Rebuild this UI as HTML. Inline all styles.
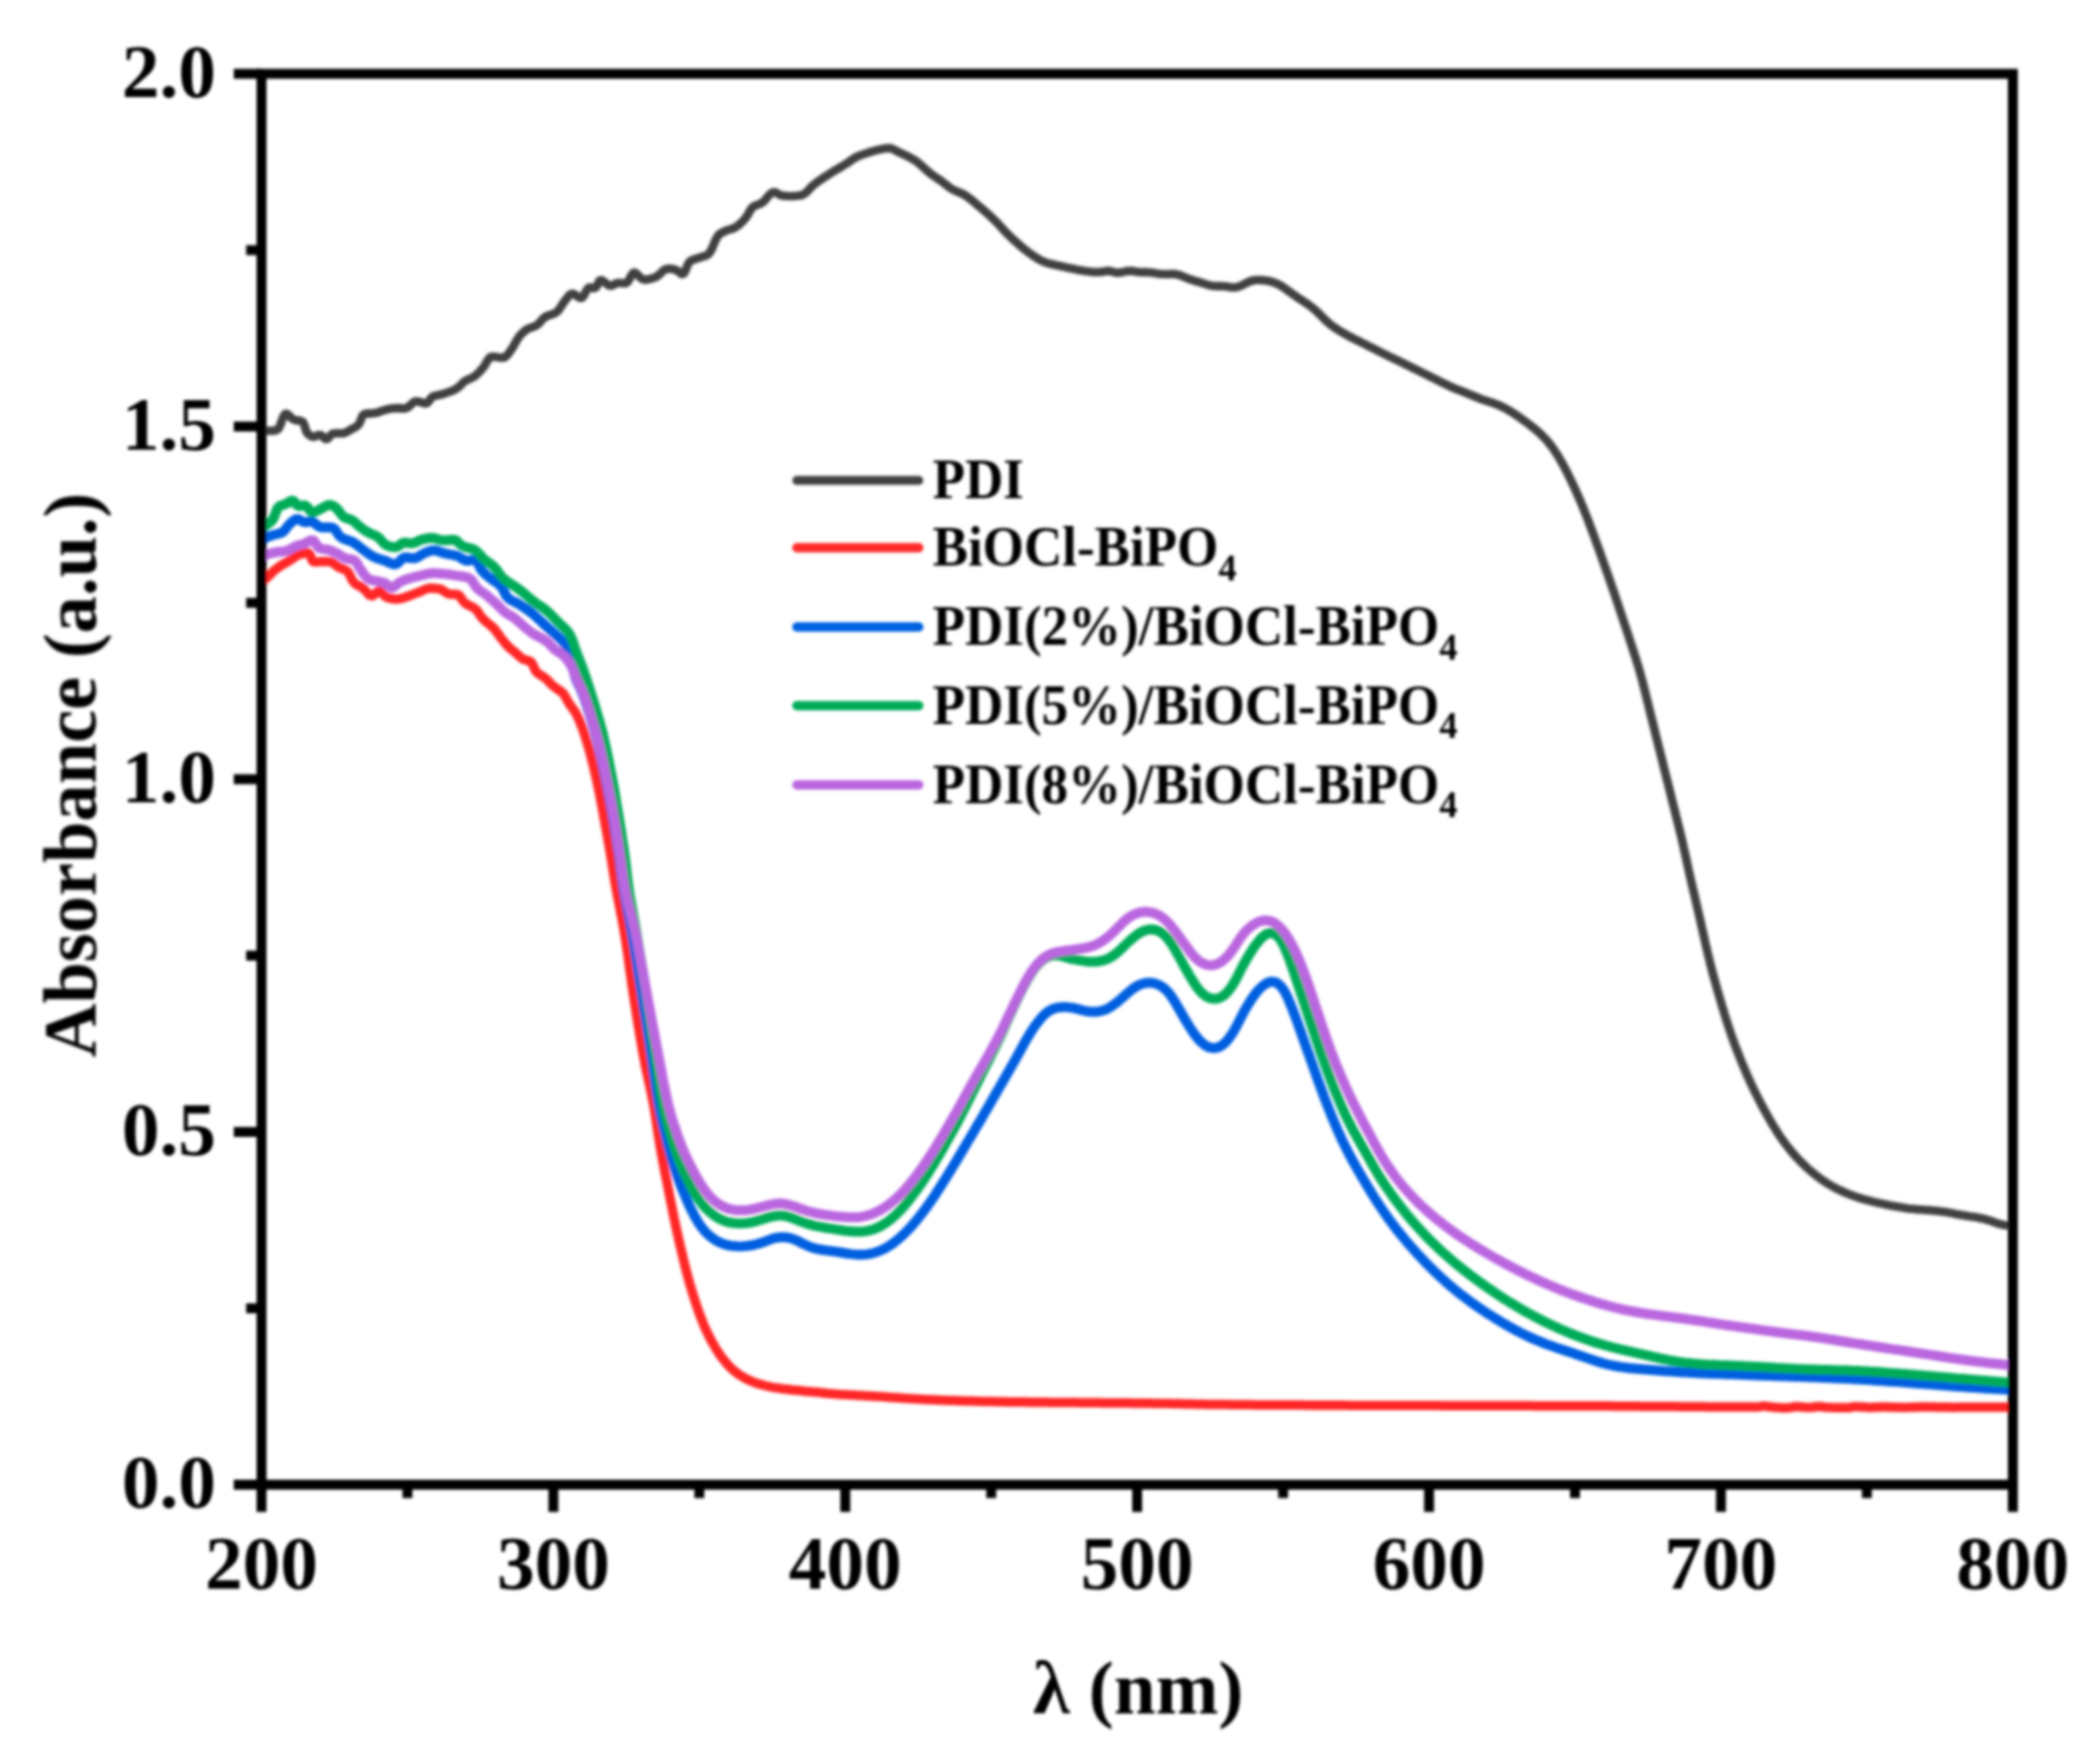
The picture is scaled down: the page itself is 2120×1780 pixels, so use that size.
<!DOCTYPE html>
<html><head><meta charset="utf-8"><title>UV-vis absorbance</title>
<style>html,body{margin:0;padding:0;background:#fff}svg{display:block}text{font-family:"Liberation Serif",serif;font-weight:bold;fill:#000}</style></head><body>
<svg width="2120" height="1780" viewBox="0 0 2120 1780">
<rect width="2120" height="1780" fill="#fff"/>
<defs><clipPath id="c"><rect x="264" y="74.5" width="1768" height="1424.5"/></clipPath><filter id="b" filterUnits="userSpaceOnUse" x="0" y="0" width="2120" height="1780"><feGaussianBlur stdDeviation="1.4"/></filter></defs>
<g filter="url(#b)">
<g clip-path="url(#c)" fill="none" stroke-linejoin="round" stroke-linecap="butt">
<path d="M264.0 429.5L265.8 432.5L267.9 434.5L270.5 435.0L273.6 434.9L276.8 434.7L279.3 434.3L281.2 432.7L282.7 429.8L284.0 426.2L285.3 422.5L286.7 419.5L288.3 417.8L290.2 418.1L292.4 420.2L294.9 422.6L297.6 424.0L300.8 424.6L303.8 425.1L305.8 426.1L307.0 428.5L308.0 431.7L309.0 435.0L310.4 437.6L312.7 439.6L315.4 441.0L318.2 440.7L321.0 439.3L323.7 439.2L326.2 441.2L328.5 443.2L330.8 443.0L332.9 440.6L335.2 438.2L337.7 437.5L340.7 437.5L343.8 437.5L346.8 437.4L349.5 436.5L352.2 434.9L354.9 433.3L357.7 431.9L360.3 430.4L362.2 428.4L363.7 425.5L364.9 422.2L366.2 419.4L368.0 418.0L370.5 417.6L373.6 417.4L376.9 417.2L379.9 416.8L382.8 415.9L385.6 414.8L388.5 413.9L391.4 413.2L394.3 412.6L397.3 412.2L400.3 412.0L403.3 412.1L406.4 412.4L409.2 412.4L411.8 411.3L414.3 409.1L416.7 406.8L419.2 405.3L421.9 405.3L425.0 406.1L428.0 407.1L430.6 407.3L432.6 405.5L434.5 402.7L436.6 400.6L439.2 399.6L442.2 399.0L445.3 398.3L448.2 397.5L451.1 396.5L454.0 395.5L456.8 394.4L459.5 393.1L462.0 391.6L464.2 389.7L466.3 387.5L468.5 385.4L471.0 383.9L473.8 382.6L476.6 381.4L479.1 379.9L481.4 378.0L483.6 375.9L485.6 373.7L487.6 371.4L489.5 368.7L491.2 365.7L492.9 362.8L494.8 360.7L497.0 360.1L499.8 360.3L503.0 360.8L506.1 361.1L508.7 361.0L511.1 359.5L513.2 357.1L515.2 354.4L517.0 351.8L518.6 349.3L520.0 346.6L521.5 343.9L523.0 341.4L524.8 339.0L526.9 336.8L529.1 334.6L531.5 332.8L534.0 331.5L536.9 330.5L539.8 329.5L542.3 328.1L544.5 326.1L546.5 323.7L548.5 321.4L550.9 319.7L553.6 318.5L556.6 317.6L559.5 316.5L561.9 315.1L563.9 313.2L565.6 310.7L567.3 308.0L569.0 305.4L570.9 303.0L572.9 300.3L575.0 297.8L577.3 296.5L579.7 297.0L582.5 299.0L585.1 300.7L587.3 300.8L589.2 298.7L590.9 295.5L592.6 292.3L594.6 290.4L597.2 290.5L600.0 291.0L602.1 289.6L603.7 286.3L605.3 283.4L607.3 282.8L609.7 284.3L612.3 286.5L615.0 288.3L617.7 288.4L620.4 287.0L623.2 285.7L626.2 285.7L629.3 286.0L631.9 286.0L634.0 284.3L635.7 281.2L637.4 277.9L639.2 275.6L641.2 275.4L643.5 277.2L645.9 279.7L648.4 281.8L651.0 282.4L653.9 282.1L657.0 281.4L659.9 280.5L662.6 279.4L665.1 277.6L667.5 275.3L669.8 273.1L672.3 271.7L675.0 271.3L678.1 271.5L681.0 272.0L683.8 273.3L686.4 275.4L688.6 276.8L690.4 276.1L691.8 273.6L693.1 270.2L694.4 266.8L696.1 264.3L698.3 262.8L701.1 261.7L704.1 260.8L707.1 259.8L710.1 258.9L712.9 258.0L715.1 256.6L716.8 254.5L718.3 251.9L719.6 249.0L720.9 245.8L722.2 242.8L723.6 239.9L725.3 237.5L727.3 235.7L729.9 234.3L732.7 233.0L735.6 232.0L738.5 231.1L741.3 230.1L743.8 228.6L746.2 226.8L748.4 224.7L750.6 222.5L752.5 220.2L754.3 217.8L755.9 215.0L757.4 212.3L759.1 209.9L761.2 208.2L763.9 207.0L766.9 206.0L769.5 204.6L771.9 202.5L774.0 199.9L776.2 197.3L778.3 195.2L780.6 194.0L783.1 194.3L785.7 195.9L788.5 197.3L791.4 197.7L794.4 197.9L797.4 198.0L800.5 198.0L803.6 197.8L806.6 197.5L809.3 197.0L811.8 195.9L814.1 194.1L816.3 191.8L818.5 189.4L820.8 187.2L823.1 185.3L825.5 183.5L828.0 181.8L830.5 180.1L833.0 178.4L835.5 176.8L838.0 175.2L840.5 173.6L843.1 172.0L845.7 170.5L848.3 169.0L850.9 167.4L853.4 165.9L856.0 164.3L858.4 162.6L860.9 160.8L863.4 159.1L866.0 157.8L868.8 156.7L871.6 155.7L874.5 154.7L877.3 153.8L880.2 152.9L883.1 152.1L886.0 151.4L889.0 150.8L892.0 150.1L894.9 149.7L897.8 149.5L900.7 150.2L903.4 151.5L906.1 153.0L908.9 154.3L911.6 155.5L914.3 156.8L917.1 158.2L919.7 159.6L922.3 161.1L924.8 162.7L927.1 164.4L929.4 166.4L931.6 168.4L933.8 170.5L936.1 172.5L938.4 174.5L940.7 176.3L943.2 178.0L945.7 179.7L948.2 181.4L950.6 183.1L953.0 184.9L955.4 186.8L957.8 188.7L960.2 190.4L962.8 191.9L965.5 193.1L968.3 194.2L971.1 195.4L973.7 196.8L976.2 198.4L978.6 200.2L981.0 202.0L983.3 204.0L985.6 205.9L987.9 207.9L990.2 209.8L992.5 211.8L994.7 213.7L997.0 215.7L999.2 217.7L1001.4 219.8L1003.6 221.9L1005.7 224.0L1007.8 226.1L1009.8 228.3L1011.9 230.6L1013.9 232.8L1015.9 235.0L1018.0 237.1L1020.2 239.2L1022.3 241.3L1024.5 243.3L1026.8 245.3L1029.0 247.3L1031.3 249.3L1033.6 251.2L1036.0 253.0L1038.4 254.9L1040.8 256.6L1043.3 258.4L1045.8 260.0L1048.3 261.5L1051.0 263.0L1053.7 264.3L1056.5 265.3L1059.3 266.1L1062.2 266.8L1065.2 267.5L1068.2 268.1L1071.1 268.8L1074.0 269.4L1076.9 270.1L1079.9 270.7L1082.8 271.3L1085.7 271.9L1088.7 272.5L1091.6 273.0L1094.6 273.5L1097.6 273.9L1100.6 274.3L1103.6 274.6L1106.5 274.8L1109.5 274.7L1112.4 274.4L1115.2 273.9L1117.9 273.5L1120.5 273.6L1123.0 274.3L1125.5 275.0L1128.1 275.4L1130.8 275.2L1133.7 274.6L1136.5 274.0L1139.4 273.5L1142.3 273.6L1145.2 274.0L1148.0 274.4L1150.9 274.8L1153.8 274.9L1156.8 274.9L1159.8 275.0L1162.7 275.3L1165.7 275.7L1168.6 276.2L1171.6 276.6L1174.6 276.8L1177.6 276.8L1180.5 276.7L1183.5 276.6L1186.4 276.8L1189.2 277.4L1192.0 278.2L1194.8 279.4L1197.6 280.6L1200.4 281.7L1203.2 282.6L1206.1 283.5L1209.0 284.3L1211.9 285.2L1214.8 286.1L1217.6 287.0L1220.5 287.9L1223.4 288.5L1226.3 288.8L1229.2 288.9L1232.2 288.9L1235.2 289.0L1238.1 289.3L1241.0 289.8L1243.9 290.2L1246.6 290.3L1249.4 289.8L1252.1 288.8L1254.8 287.5L1257.5 286.1L1260.2 284.8L1263.0 283.7L1265.9 283.0L1268.8 282.7L1271.7 282.7L1274.7 282.9L1277.7 283.3L1280.6 283.7L1283.5 284.4L1286.3 285.3L1289.1 286.4L1291.7 287.8L1294.3 289.3L1296.8 291.0L1299.3 292.7L1301.7 294.5L1304.1 296.2L1306.6 298.0L1309.0 299.7L1311.5 301.4L1314.1 303.1L1316.6 304.7L1319.1 306.4L1321.5 308.1L1323.9 309.9L1326.2 311.7L1328.5 313.7L1330.7 315.8L1332.8 317.9L1334.9 320.0L1337.0 322.2L1339.2 324.2L1341.4 326.2L1343.7 328.1L1346.1 329.9L1348.6 331.6L1351.1 333.2L1353.7 334.8L1356.2 336.3L1358.9 337.8L1361.5 339.2L1364.1 340.6L1366.8 342.0L1369.5 343.3L1372.2 344.6L1374.9 346.0L1377.6 347.3L1380.2 348.7L1382.9 350.1L1385.6 351.4L1388.3 352.8L1390.9 354.1L1393.6 355.5L1396.3 356.8L1399.0 358.2L1401.7 359.5L1404.4 360.8L1407.1 362.1L1409.8 363.4L1412.5 364.7L1415.2 366.0L1417.9 367.4L1420.6 368.7L1423.3 370.0L1425.9 371.3L1428.6 372.7L1431.3 374.0L1434.0 375.3L1436.7 376.7L1439.4 378.0L1442.1 379.4L1444.7 380.7L1447.4 382.0L1450.1 383.4L1452.8 384.7L1455.5 386.1L1458.2 387.4L1460.9 388.7L1463.6 390.0L1466.3 391.2L1469.1 392.4L1471.9 393.5L1474.7 394.6L1477.5 395.7L1480.3 396.8L1483.0 397.9L1485.8 399.0L1488.6 400.2L1491.3 401.3L1494.1 402.4L1496.8 403.5L1499.6 404.4L1502.4 405.3L1505.2 406.3L1507.9 407.2L1510.7 408.2L1513.4 409.3L1516.1 410.5L1518.7 411.8L1521.3 413.2L1523.9 414.7L1526.4 416.3L1528.9 417.9L1531.4 419.6L1533.9 421.3L1536.3 423.1L1538.8 424.8L1541.2 426.6L1543.6 428.4L1546.0 430.3L1548.3 432.1L1550.6 434.0L1552.9 436.0L1555.1 438.0L1557.2 440.1L1559.3 442.2L1561.3 444.4L1563.2 446.6L1565.1 449.0L1566.9 451.3L1568.6 453.8L1570.2 456.3L1571.9 458.8L1573.4 461.3L1574.9 463.9L1576.4 466.5L1577.9 469.1L1579.3 471.8L1580.7 474.4L1582.0 477.1L1583.4 479.8L1584.7 482.5L1586.0 485.2L1587.3 487.9L1588.6 490.6L1589.8 493.3L1591.1 496.1L1592.3 498.8L1593.5 501.5L1594.7 504.3L1595.9 507.0L1597.0 509.8L1598.2 512.6L1599.3 515.4L1600.4 518.2L1601.5 521.0L1602.6 523.7L1603.7 526.5L1604.7 529.3L1605.8 532.2L1606.9 535.0L1607.9 537.8L1609.0 540.6L1610.0 543.4L1611.0 546.2L1612.0 549.0L1613.1 551.9L1614.1 554.7L1615.1 557.5L1616.1 560.3L1617.1 563.2L1618.1 566.0L1619.1 568.8L1620.1 571.6L1621.1 574.5L1622.1 577.3L1623.1 580.1L1624.1 583.0L1625.1 585.8L1626.1 588.6L1627.0 591.5L1628.0 594.3L1629.0 597.1L1630.0 600.0L1630.9 602.8L1631.9 605.7L1632.8 608.5L1633.8 611.3L1634.7 614.2L1635.7 617.0L1636.6 619.9L1637.6 622.7L1638.5 625.6L1639.5 628.4L1640.4 631.3L1641.4 634.1L1642.3 637.0L1643.3 639.8L1644.2 642.7L1645.2 645.5L1646.1 648.4L1647.0 651.2L1648.0 654.1L1648.9 656.9L1649.8 659.8L1650.7 662.6L1651.6 665.5L1652.5 668.4L1653.4 671.2L1654.2 674.1L1655.1 677.0L1655.9 679.9L1656.7 682.8L1657.5 685.6L1658.2 688.5L1659.0 691.4L1659.7 694.4L1660.5 697.3L1661.2 700.2L1661.9 703.1L1662.6 706.0L1663.3 708.9L1664.1 711.8L1664.8 714.7L1665.5 717.7L1666.2 720.6L1666.9 723.5L1667.7 726.4L1668.4 729.3L1669.1 732.2L1669.9 735.1L1670.6 738.0L1671.3 740.9L1672.0 743.9L1672.8 746.8L1673.5 749.7L1674.2 752.6L1674.9 755.5L1675.7 758.4L1676.4 761.3L1677.1 764.2L1677.9 767.1L1678.6 770.0L1679.3 773.0L1680.0 775.9L1680.8 778.8L1681.5 781.7L1682.2 784.6L1682.9 787.5L1683.7 790.4L1684.4 793.3L1685.1 796.2L1685.9 799.1L1686.6 802.1L1687.3 805.0L1688.0 807.9L1688.8 810.8L1689.5 813.7L1690.2 816.6L1691.0 819.5L1691.7 822.4L1692.4 825.3L1693.2 828.2L1693.9 831.2L1694.6 834.1L1695.3 837.0L1696.1 839.9L1696.8 842.8L1697.5 845.7L1698.1 848.6L1698.8 851.6L1699.5 854.5L1700.1 857.4L1700.8 860.4L1701.4 863.3L1702.1 866.2L1702.7 869.1L1703.3 872.1L1704.0 875.0L1704.6 877.9L1705.3 880.9L1705.9 883.8L1706.6 886.7L1707.3 889.6L1707.9 892.6L1708.6 895.5L1709.3 898.4L1710.0 901.3L1710.7 904.2L1711.4 907.2L1712.0 910.1L1712.7 913.0L1713.4 915.9L1714.1 918.9L1714.8 921.8L1715.4 924.7L1716.1 927.6L1716.8 930.6L1717.4 933.5L1718.1 936.4L1718.7 939.3L1719.4 942.3L1720.1 945.2L1720.7 948.1L1721.4 951.0L1722.0 954.0L1722.7 956.9L1723.4 959.8L1724.1 962.7L1724.8 965.6L1725.5 968.6L1726.2 971.5L1726.9 974.4L1727.7 977.3L1728.4 980.2L1729.2 983.1L1730.0 986.0L1730.8 988.9L1731.6 991.8L1732.4 994.7L1733.2 997.5L1734.0 1000.4L1734.9 1003.3L1735.7 1006.2L1736.5 1009.1L1737.4 1012.0L1738.2 1014.8L1739.1 1017.7L1740.0 1020.6L1740.8 1023.4L1741.7 1026.3L1742.6 1029.2L1743.5 1032.0L1744.4 1034.9L1745.4 1037.7L1746.3 1040.6L1747.3 1043.4L1748.3 1046.3L1749.3 1049.1L1750.3 1051.9L1751.3 1054.7L1752.4 1057.5L1753.5 1060.3L1754.6 1063.1L1755.7 1065.9L1756.8 1068.7L1757.9 1071.5L1759.0 1074.2L1760.2 1077.0L1761.4 1079.8L1762.5 1082.5L1763.7 1085.3L1764.9 1088.0L1766.2 1090.8L1767.4 1093.5L1768.7 1096.2L1770.0 1098.9L1771.3 1101.6L1772.6 1104.3L1774.0 1107.0L1775.3 1109.7L1776.7 1112.3L1778.1 1115.0L1779.5 1117.6L1780.9 1120.3L1782.4 1122.9L1783.8 1125.5L1785.3 1128.2L1786.8 1130.8L1788.3 1133.4L1789.8 1136.0L1791.4 1138.5L1793.0 1141.1L1794.6 1143.6L1796.2 1146.1L1797.9 1148.6L1799.6 1151.0L1801.4 1153.5L1803.1 1155.8L1805.0 1158.2L1806.9 1160.5L1808.8 1162.9L1810.7 1165.1L1812.7 1167.4L1814.7 1169.6L1816.8 1171.8L1818.9 1173.9L1821.1 1176.0L1823.2 1178.1L1825.4 1180.1L1827.7 1182.1L1830.0 1184.0L1832.3 1185.9L1834.6 1187.8L1837.0 1189.5L1839.5 1191.3L1842.0 1192.9L1844.5 1194.6L1847.0 1196.1L1849.6 1197.6L1852.2 1199.1L1854.9 1200.5L1857.6 1201.8L1860.3 1203.0L1863.0 1204.2L1865.8 1205.4L1868.6 1206.5L1871.4 1207.5L1874.2 1208.5L1877.0 1209.4L1879.9 1210.3L1882.8 1211.1L1885.7 1211.9L1888.6 1212.7L1891.5 1213.4L1894.4 1214.1L1897.3 1214.8L1900.3 1215.4L1903.2 1216.0L1906.1 1216.6L1909.1 1217.2L1912.0 1217.7L1915.0 1218.3L1917.9 1218.8L1920.9 1219.3L1923.9 1219.7L1926.8 1220.2L1929.8 1220.5L1932.8 1220.8L1935.8 1221.1L1938.8 1221.3L1941.8 1221.5L1944.8 1221.7L1947.8 1221.9L1950.7 1222.2L1953.7 1222.4L1956.7 1222.8L1959.7 1223.2L1962.6 1223.6L1965.6 1224.1L1968.6 1224.6L1971.5 1225.1L1974.5 1225.7L1977.4 1226.2L1980.4 1226.7L1983.4 1227.2L1986.3 1227.7L1989.3 1228.2L1992.3 1228.6L1995.2 1229.1L1998.2 1229.7L2001.1 1230.3L2004.0 1231.0L2006.9 1231.8L2009.7 1232.7L2012.6 1233.8L2015.4 1234.8L2018.2 1235.6L2021.1 1236.4L2024.0 1236.9L2026.9 1237.3L2029.6 1237.7L2032.0 1237.9" stroke="#404040" stroke-width="8.6"/>
<path d="M264.0 587.5L266.4 585.8L268.8 583.9L271.0 581.8L273.1 579.7L275.2 577.5L277.4 575.5L279.8 573.7L282.2 572.0L284.7 570.3L287.3 568.8L289.9 567.3L292.5 565.8L295.1 564.2L297.5 562.4L300.0 560.7L302.8 559.6L306.0 558.8L309.0 558.3L311.4 558.3L313.1 560.2L314.3 563.6L315.6 566.6L317.6 567.4L320.4 567.3L323.7 567.1L326.8 567.0L329.9 567.0L332.8 567.1L335.5 568.0L337.9 569.8L340.5 571.8L343.2 573.2L346.1 574.3L348.8 575.5L351.0 577.1L352.6 579.5L354.0 582.3L355.4 585.2L357.0 587.7L359.0 589.7L361.6 591.1L364.4 592.5L366.9 594.2L369.2 596.6L371.3 599.2L373.5 601.2L375.7 601.6L378.1 600.1L380.5 597.7L382.8 596.6L384.9 598.0L387.0 600.5L389.3 602.5L392.0 603.5L394.9 604.3L398.0 604.8L401.0 604.9L403.9 604.5L406.8 603.8L409.7 602.8L412.6 601.7L415.4 600.8L418.2 599.7L421.0 598.6L423.8 597.5L426.6 596.3L429.4 595.0L432.2 594.1L435.1 593.8L438.2 593.9L441.2 594.2L444.1 594.6L446.8 595.8L449.3 597.7L451.9 599.3L454.7 599.9L457.8 600.0L460.7 600.1L463.1 600.8L465.0 603.1L466.8 605.9L468.8 608.4L471.2 610.1L474.0 611.5L476.8 612.8L479.3 614.4L481.4 616.3L483.1 618.7L484.8 621.3L486.6 623.7L488.6 625.9L490.9 627.9L493.2 629.8L495.6 631.7L497.8 633.8L499.8 635.9L501.6 638.3L503.4 640.7L505.1 643.2L507.0 645.6L508.8 647.9L510.8 650.3L512.8 652.5L514.9 654.5L517.2 656.4L519.6 658.3L521.9 660.3L524.1 662.4L526.4 664.3L529.0 665.8L531.9 666.7L534.8 667.5L536.7 669.1L538.1 671.7L539.4 674.7L540.8 677.5L542.7 679.6L545.2 681.3L547.8 682.9L550.3 684.6L552.5 686.6L554.6 688.8L556.7 691.0L558.9 693.0L561.3 694.8L563.9 696.5L566.4 698.2L568.5 700.1L570.2 702.5L571.6 705.1L573.1 707.8L574.6 710.4L576.4 712.9L578.1 715.3L579.9 717.7L581.4 720.3L582.8 722.9L584.1 725.6L585.3 728.4L586.4 731.2L587.5 734.0L588.5 736.8L589.5 739.6L590.4 742.5L591.3 745.4L592.2 748.2L593.1 751.1L593.9 754.0L594.8 756.8L595.6 759.7L596.4 762.6L597.1 765.5L597.8 768.4L598.6 771.3L599.3 774.3L600.0 777.2L600.6 780.1L601.3 783.0L602.0 786.0L602.6 788.9L603.2 791.8L603.9 794.8L604.5 797.7L605.1 800.6L605.7 803.6L606.3 806.5L606.8 809.5L607.4 812.4L607.9 815.4L608.5 818.3L609.0 821.3L609.5 824.2L610.1 827.2L610.6 830.1L611.1 833.1L611.7 836.0L612.2 839.0L612.8 841.9L613.3 844.9L613.8 847.8L614.4 850.8L614.9 853.7L615.4 856.7L615.9 859.6L616.4 862.6L616.9 865.6L617.4 868.5L617.8 871.5L618.3 874.4L618.8 877.4L619.2 880.4L619.7 883.3L620.2 886.3L620.6 889.3L621.1 892.2L621.6 895.2L622.2 898.1L622.7 901.1L623.3 904.0L623.8 907.0L624.4 909.9L625.0 912.9L625.6 915.8L626.2 918.8L626.7 921.7L627.3 924.6L627.9 927.6L628.4 930.5L629.0 933.5L629.5 936.4L630.0 939.4L630.5 942.4L631.0 945.3L631.5 948.3L631.9 951.2L632.4 954.2L632.8 957.2L633.3 960.1L633.7 963.1L634.1 966.1L634.5 969.1L634.9 972.0L635.3 975.0L635.7 978.0L636.2 980.9L636.6 983.9L637.0 986.9L637.4 989.9L637.8 992.8L638.2 995.8L638.7 998.8L639.1 1001.7L639.6 1004.7L640.0 1007.7L640.5 1010.6L640.9 1013.6L641.4 1016.6L641.9 1019.5L642.3 1022.5L642.8 1025.5L643.3 1028.4L643.7 1031.4L644.2 1034.3L644.7 1037.3L645.2 1040.3L645.7 1043.2L646.2 1046.2L646.7 1049.1L647.2 1052.1L647.7 1055.1L648.2 1058.0L648.7 1061.0L649.3 1063.9L649.8 1066.9L650.4 1069.8L650.9 1072.8L651.5 1075.7L652.1 1078.6L652.7 1081.6L653.4 1084.5L654.0 1087.4L654.6 1090.4L655.3 1093.3L655.9 1096.2L656.6 1099.2L657.2 1102.1L657.8 1105.0L658.4 1108.0L659.0 1110.9L659.6 1113.9L660.1 1116.8L660.6 1119.8L661.1 1122.7L661.6 1125.7L662.0 1128.6L662.5 1131.6L662.9 1134.6L663.4 1137.6L663.8 1140.5L664.2 1143.5L664.7 1146.5L665.2 1149.4L665.6 1152.4L666.1 1155.3L666.6 1158.3L667.1 1161.3L667.7 1164.2L668.2 1167.2L668.7 1170.1L669.3 1173.1L669.8 1176.0L670.4 1179.0L670.9 1181.9L671.5 1184.9L672.1 1187.8L672.7 1190.7L673.3 1193.7L673.9 1196.6L674.5 1199.6L675.1 1202.5L675.6 1205.4L676.2 1208.4L676.8 1211.3L677.4 1214.3L678.0 1217.2L678.6 1220.2L679.2 1223.1L679.7 1226.0L680.3 1229.0L681.0 1231.9L681.6 1234.9L682.2 1237.8L682.8 1240.7L683.5 1243.6L684.1 1246.6L684.8 1249.5L685.4 1252.4L686.1 1255.4L686.8 1258.3L687.5 1261.2L688.2 1264.1L688.9 1267.0L689.6 1270.0L690.3 1272.9L691.0 1275.8L691.7 1278.7L692.4 1281.6L693.2 1284.5L694.0 1287.4L694.7 1290.3L695.5 1293.2L696.3 1296.1L697.2 1299.0L698.0 1301.8L698.9 1304.7L699.8 1307.6L700.7 1310.4L701.6 1313.3L702.6 1316.1L703.5 1319.0L704.5 1321.8L705.5 1324.7L706.5 1327.5L707.6 1330.3L708.7 1333.1L709.8 1335.9L710.9 1338.6L712.1 1341.4L713.4 1344.1L714.7 1346.8L716.0 1349.5L717.4 1352.2L718.8 1354.8L720.3 1357.4L721.8 1360.0L723.3 1362.6L725.0 1365.1L726.6 1367.6L728.4 1370.1L730.2 1372.4L732.1 1374.8L734.0 1377.1L736.1 1379.3L738.2 1381.4L740.4 1383.5L742.7 1385.4L745.1 1387.1L747.5 1388.8L750.1 1390.4L752.7 1391.8L755.4 1393.1L758.1 1394.3L760.9 1395.5L763.8 1396.5L766.6 1397.4L769.5 1398.2L772.4 1399.0L775.3 1399.7L778.2 1400.3L781.2 1400.9L784.2 1401.3L787.1 1401.8L790.1 1402.2L793.1 1402.5L796.0 1402.8L799.0 1403.2L802.0 1403.5L805.0 1403.8L808.0 1404.1L811.0 1404.4L814.0 1404.7L817.0 1405.0L819.9 1405.3L822.9 1405.5L825.9 1405.8L828.9 1406.1L831.9 1406.4L834.9 1406.7L837.9 1406.9L840.9 1407.2L843.8 1407.4L846.8 1407.7L849.8 1407.9L852.8 1408.1L855.8 1408.3L858.8 1408.5L861.8 1408.6L864.8 1408.8L867.8 1409.0L870.8 1409.1L873.8 1409.3L876.8 1409.5L879.8 1409.6L882.8 1409.8L885.8 1410.0L888.8 1410.1L891.8 1410.3L894.7 1410.5L897.7 1410.7L900.7 1410.9L903.7 1411.1L906.7 1411.3L909.7 1411.5L912.7 1411.7L915.7 1411.9L918.7 1412.1L921.7 1412.2L924.7 1412.4L927.7 1412.6L930.7 1412.7L933.7 1412.9L936.7 1413.0L939.7 1413.2L942.7 1413.3L945.7 1413.4L948.7 1413.6L951.7 1413.7L954.7 1413.8L957.7 1413.9L960.7 1414.0L963.7 1414.1L966.6 1414.2L969.6 1414.3L972.6 1414.4L975.6 1414.5L978.6 1414.6L981.6 1414.6L984.6 1414.7L987.6 1414.8L990.6 1414.9L993.6 1414.9L996.6 1415.0L999.6 1415.1L1002.6 1415.1L1005.6 1415.2L1008.6 1415.2L1011.6 1415.3L1014.6 1415.3L1017.6 1415.4L1020.6 1415.4L1023.6 1415.5L1026.6 1415.5L1029.6 1415.5L1032.6 1415.6L1035.6 1415.6L1038.6 1415.7L1041.6 1415.7L1044.6 1415.7L1047.6 1415.8L1050.6 1415.8L1053.6 1415.8L1056.6 1415.8L1059.6 1415.9L1062.6 1415.9L1065.6 1415.9L1068.6 1416.0L1071.6 1416.0L1074.6 1416.0L1077.6 1416.0L1080.6 1416.1L1083.6 1416.1L1086.6 1416.1L1089.6 1416.2L1092.6 1416.2L1095.6 1416.2L1098.6 1416.2L1101.6 1416.3L1104.6 1416.3L1107.6 1416.3L1110.6 1416.3L1113.6 1416.4L1116.6 1416.4L1119.6 1416.4L1122.6 1416.5L1125.6 1416.5L1128.6 1416.5L1131.6 1416.5L1134.6 1416.6L1137.6 1416.6L1140.6 1416.6L1143.6 1416.7L1146.6 1416.7L1149.6 1416.7L1152.6 1416.7L1155.6 1416.8L1158.6 1416.8L1161.6 1416.8L1164.6 1416.9L1167.6 1416.9L1170.6 1417.0L1173.6 1417.0L1176.6 1417.1L1179.6 1417.1L1182.6 1417.2L1185.6 1417.2L1188.6 1417.3L1191.6 1417.3L1194.6 1417.4L1197.6 1417.5L1200.6 1417.5L1203.6 1417.6L1206.6 1417.7L1209.6 1417.7L1212.6 1417.8L1215.6 1417.8L1218.6 1417.9L1221.6 1417.9L1224.6 1418.0L1227.6 1418.0L1230.6 1418.0L1233.6 1418.1L1236.6 1418.1L1239.6 1418.1L1242.6 1418.2L1245.6 1418.2L1248.6 1418.2L1251.6 1418.2L1254.6 1418.3L1257.6 1418.3L1260.6 1418.3L1263.6 1418.3L1266.6 1418.4L1269.6 1418.4L1272.6 1418.4L1275.6 1418.4L1278.6 1418.4L1281.6 1418.5L1284.6 1418.5L1287.6 1418.5L1290.6 1418.5L1293.6 1418.5L1296.6 1418.5L1299.6 1418.6L1302.6 1418.6L1305.6 1418.6L1308.6 1418.6L1311.6 1418.6L1314.6 1418.6L1317.6 1418.7L1320.6 1418.7L1323.6 1418.7L1326.6 1418.7L1329.6 1418.7L1332.6 1418.7L1335.6 1418.7L1338.6 1418.8L1341.6 1418.8L1344.6 1418.8L1347.6 1418.8L1350.6 1418.8L1353.6 1418.8L1356.6 1418.8L1359.6 1418.9L1362.6 1418.9L1365.6 1418.9L1368.6 1418.9L1371.6 1418.9L1374.6 1418.9L1377.6 1418.9L1380.6 1418.9L1383.6 1418.9L1386.6 1419.0L1389.6 1419.0L1392.6 1419.0L1395.6 1419.0L1398.6 1419.0L1401.6 1419.0L1404.6 1419.0L1407.6 1419.0L1410.6 1419.0L1413.6 1419.0L1416.6 1419.1L1419.6 1419.1L1422.6 1419.1L1425.6 1419.1L1428.6 1419.1L1431.6 1419.1L1434.6 1419.1L1437.6 1419.1L1440.6 1419.1L1443.6 1419.1L1446.6 1419.1L1449.6 1419.1L1452.6 1419.1L1455.6 1419.2L1458.6 1419.2L1461.6 1419.2L1464.6 1419.2L1467.6 1419.2L1470.6 1419.2L1473.6 1419.2L1476.6 1419.2L1479.6 1419.2L1482.6 1419.2L1485.6 1419.2L1488.6 1419.2L1491.6 1419.2L1494.6 1419.2L1497.6 1419.2L1500.6 1419.2L1503.6 1419.3L1506.6 1419.3L1509.6 1419.3L1512.6 1419.3L1515.6 1419.3L1518.6 1419.3L1521.6 1419.3L1524.6 1419.3L1527.6 1419.3L1530.6 1419.3L1533.6 1419.3L1536.6 1419.3L1539.6 1419.3L1542.6 1419.3L1545.6 1419.3L1548.6 1419.4L1551.6 1419.4L1554.6 1419.4L1557.6 1419.4L1560.6 1419.4L1563.6 1419.4L1566.6 1419.4L1569.6 1419.4L1572.6 1419.4L1575.6 1419.4L1578.6 1419.4L1581.6 1419.4L1584.6 1419.5L1587.6 1419.5L1590.6 1419.5L1593.6 1419.5L1596.6 1419.5L1599.6 1419.5L1602.6 1419.5L1605.6 1419.5L1608.6 1419.5L1611.6 1419.6L1614.6 1419.6L1617.6 1419.6L1620.6 1419.6L1623.7 1419.6L1626.7 1419.6L1629.7 1419.7L1632.7 1419.7L1635.7 1419.7L1638.7 1419.7L1641.7 1419.7L1644.7 1419.8L1647.7 1419.8L1650.7 1419.8L1653.8 1419.8L1656.8 1419.9L1659.8 1419.9L1662.8 1419.9L1665.8 1419.9L1668.8 1420.0L1671.8 1420.0L1674.8 1420.0L1677.9 1420.0L1680.9 1420.1L1683.9 1420.1L1686.9 1420.1L1689.9 1420.1L1692.9 1420.1L1695.9 1420.2L1698.9 1420.2L1701.9 1420.2L1704.9 1420.2L1707.9 1420.3L1710.9 1420.3L1713.9 1420.3L1716.9 1420.3L1719.9 1420.3L1722.9 1420.4L1725.9 1420.4L1728.9 1420.4L1731.9 1420.4L1734.9 1420.4L1737.9 1420.5L1740.9 1420.5L1743.9 1420.5L1746.9 1420.5L1749.8 1420.5L1752.8 1420.5L1755.8 1420.5L1758.8 1420.5L1761.7 1420.5L1764.7 1420.5L1767.7 1420.5L1770.7 1420.5L1773.6 1420.5L1776.6 1420.2L1779.5 1419.8L1782.5 1419.8L1785.5 1420.2L1788.4 1420.6L1791.4 1420.9L1794.4 1421.1L1797.4 1421.3L1800.4 1421.4L1803.4 1421.5L1806.4 1421.3L1809.3 1420.7L1812.3 1420.3L1815.3 1420.3L1818.3 1420.5L1821.3 1420.8L1824.3 1421.0L1827.3 1421.1L1830.2 1420.7L1833.2 1420.2L1836.2 1420.1L1839.1 1420.3L1842.1 1420.7L1845.1 1420.9L1848.1 1421.1L1851.1 1421.2L1854.1 1421.2L1857.1 1421.3L1860.1 1421.3L1863.1 1421.3L1866.1 1421.2L1869.1 1420.7L1872.0 1420.3L1875.0 1420.3L1878.0 1420.4L1881.0 1420.6L1884.0 1420.8L1887.0 1420.9L1890.0 1420.9L1893.0 1420.8L1896.0 1420.7L1899.0 1420.6L1902.0 1420.6L1905.0 1420.6L1908.0 1420.7L1911.0 1420.8L1914.0 1420.8L1917.0 1420.9L1920.0 1420.9L1923.0 1420.9L1926.0 1420.9L1929.0 1420.8L1932.0 1420.8L1935.0 1420.7L1938.0 1420.6L1941.0 1420.6L1944.0 1420.6L1947.0 1420.6L1950.0 1420.6L1953.0 1420.6L1956.0 1420.7L1959.0 1420.7L1962.0 1420.8L1965.0 1420.8L1968.0 1420.8L1971.0 1420.9L1974.0 1420.9L1977.0 1420.8L1980.0 1420.8L1983.0 1420.8L1986.0 1420.8L1989.0 1420.8L1992.0 1420.8L1995.0 1420.8L1998.0 1420.8L2001.0 1420.8L2004.0 1420.8L2007.0 1420.8L2010.0 1420.8L2013.0 1420.8L2016.0 1420.8L2019.0 1420.8L2022.0 1420.8L2025.0 1420.8L2028.0 1420.8L2030.7 1420.9L2032.0 1420.9" stroke="#FF2626" stroke-width="9.5"/>
<path d="M264.0 546.2L266.3 544.3L268.8 542.7L271.5 541.5L274.4 540.6L277.3 539.8L280.4 539.0L283.3 538.2L285.7 537.0L287.7 535.0L289.6 532.4L291.5 530.0L293.8 527.8L296.2 525.7L298.7 524.2L301.3 524.2L304.0 525.6L306.7 527.1L309.6 527.2L312.5 526.5L315.3 526.7L317.8 528.3L320.3 530.5L322.8 532.1L325.7 532.5L328.8 532.5L331.9 532.5L334.7 532.6L337.0 533.4L338.9 535.6L340.8 538.5L342.7 541.1L345.0 543.0L347.6 544.2L350.5 545.2L353.4 546.2L356.2 547.4L358.7 548.9L361.1 550.7L363.5 552.6L365.8 554.5L368.3 556.3L370.7 558.1L373.2 559.8L375.7 561.4L378.4 562.7L381.1 563.8L384.0 564.7L386.9 565.6L389.8 566.6L392.6 567.9L395.5 569.1L398.2 569.8L400.7 569.2L403.1 567.2L405.4 564.7L407.8 563.0L410.5 562.7L413.5 563.2L416.5 563.6L419.4 563.4L422.1 562.2L424.7 560.5L427.4 559.0L430.2 557.7L433.0 556.6L435.9 555.8L438.8 555.7L441.7 556.2L444.5 557.2L447.4 558.3L450.3 559.0L453.3 559.6L456.3 560.1L459.2 560.7L462.1 561.5L464.8 563.0L467.4 564.7L470.1 565.9L473.0 566.0L476.1 565.5L478.8 565.2L480.8 566.1L482.4 568.5L483.9 571.7L485.5 574.7L487.4 577.2L489.5 579.3L491.8 581.3L494.2 583.2L496.5 585.0L499.0 586.7L501.6 588.4L504.0 590.2L506.0 592.3L507.6 594.8L509.0 597.6L510.4 600.4L512.0 602.8L514.0 604.7L516.5 606.2L519.3 607.6L522.1 608.9L524.7 610.5L527.2 612.1L529.7 613.8L532.2 615.5L534.6 617.3L536.9 619.1L539.2 621.0L541.5 623.0L543.7 625.1L545.9 627.1L548.1 629.2L550.3 631.2L552.6 633.2L554.8 635.2L557.0 637.2L559.3 639.2L561.5 641.2L563.7 643.3L565.9 645.3L568.0 647.5L569.9 649.7L571.7 652.1L573.3 654.7L574.8 657.4L576.0 660.1L576.9 662.9L577.6 665.7L578.2 668.7L578.6 671.7L579.0 674.7L579.4 677.7L580.0 680.7L580.7 683.5L581.6 686.3L582.8 689.0L584.2 691.7L585.6 694.4L586.8 697.1L587.9 699.9L589.0 702.7L590.0 705.5L591.0 708.4L592.0 711.2L592.9 714.1L593.8 716.9L594.8 719.8L595.7 722.6L596.5 725.5L597.4 728.4L598.3 731.2L599.1 734.1L600.0 737.0L600.8 739.9L601.6 742.8L602.4 745.7L603.2 748.6L603.9 751.5L604.6 754.4L605.3 757.3L606.0 760.2L606.7 763.2L607.3 766.1L607.9 769.0L608.6 772.0L609.2 774.9L609.8 777.8L610.4 780.8L611.0 783.7L611.6 786.6L612.2 789.6L612.8 792.5L613.4 795.5L614.0 798.4L614.6 801.3L615.2 804.3L615.7 807.2L616.3 810.2L616.8 813.1L617.3 816.1L617.9 819.0L618.4 822.0L618.8 825.0L619.3 827.9L619.8 830.9L620.3 833.8L620.8 836.8L621.3 839.8L621.8 842.7L622.3 845.7L622.8 848.6L623.2 851.6L623.7 854.6L624.2 857.5L624.6 860.5L625.1 863.5L625.5 866.4L625.9 869.4L626.3 872.4L626.6 875.4L627.0 878.3L627.4 881.3L627.8 884.3L628.2 887.3L628.6 890.2L629.0 893.2L629.5 896.2L630.0 899.1L630.5 902.1L631.0 905.0L631.6 908.0L632.1 910.9L632.7 913.9L633.2 916.8L633.8 919.8L634.4 922.7L635.0 925.7L635.5 928.6L636.1 931.6L636.6 934.5L637.2 937.5L637.7 940.4L638.2 943.4L638.7 946.3L639.2 949.3L639.7 952.2L640.2 955.2L640.7 958.2L641.2 961.1L641.6 964.1L642.1 967.0L642.6 970.0L643.1 973.0L643.5 975.9L644.0 978.9L644.5 981.9L644.9 984.8L645.4 987.8L645.9 990.7L646.3 993.7L646.8 996.7L647.3 999.6L647.7 1002.6L648.2 1005.6L648.7 1008.5L649.1 1011.5L649.6 1014.5L650.1 1017.4L650.5 1020.4L651.0 1023.3L651.5 1026.3L651.9 1029.3L652.4 1032.2L652.9 1035.2L653.3 1038.2L653.8 1041.1L654.2 1044.1L654.7 1047.1L655.2 1050.0L655.6 1053.0L656.1 1056.0L656.5 1058.9L657.0 1061.9L657.4 1064.9L657.9 1067.8L658.3 1070.8L658.7 1073.8L659.1 1076.7L659.5 1079.7L659.9 1082.7L660.4 1085.7L660.8 1088.6L661.2 1091.6L661.6 1094.6L662.1 1097.6L662.5 1100.5L662.9 1103.5L663.4 1106.4L663.9 1109.4L664.4 1112.4L664.9 1115.3L665.5 1118.3L666.0 1121.2L666.6 1124.1L667.3 1127.1L667.9 1130.0L668.6 1132.9L669.3 1135.8L670.0 1138.7L670.8 1141.7L671.5 1144.6L672.2 1147.5L672.9 1150.4L673.6 1153.3L674.3 1156.2L675.1 1159.1L675.9 1162.0L676.7 1164.9L677.5 1167.8L678.3 1170.7L679.2 1173.6L680.1 1176.4L681.0 1179.3L681.9 1182.1L682.9 1185.0L683.9 1187.8L684.9 1190.6L685.9 1193.4L687.0 1196.2L688.1 1199.0L689.2 1201.8L690.4 1204.6L691.6 1207.3L692.7 1210.1L693.9 1212.9L695.2 1215.6L696.4 1218.3L697.7 1221.0L699.1 1223.7L700.4 1226.4L701.9 1229.0L703.4 1231.6L704.9 1234.2L706.6 1236.7L708.3 1239.1L710.2 1241.5L712.1 1243.7L714.2 1245.8L716.4 1247.8L718.8 1249.7L721.2 1251.4L723.8 1253.0L726.4 1254.3L729.2 1255.5L732.0 1256.4L734.8 1257.2L737.8 1257.7L740.7 1258.1L743.7 1258.3L746.7 1258.4L749.7 1258.3L752.7 1258.1L755.6 1257.7L758.6 1257.2L761.5 1256.7L764.4 1256.0L767.3 1255.1L770.2 1254.2L773.0 1253.2L775.8 1252.1L778.6 1251.1L781.4 1250.2L784.3 1249.6L787.2 1249.2L790.1 1249.1L793.1 1249.3L796.0 1249.7L798.9 1250.4L801.7 1251.4L804.4 1252.5L807.1 1253.8L809.8 1255.2L812.4 1256.5L815.2 1257.8L817.9 1258.9L820.7 1259.9L823.6 1260.6L826.5 1261.3L829.5 1261.8L832.5 1262.3L835.4 1262.6L838.4 1263.0L841.4 1263.4L844.4 1263.8L847.3 1264.2L850.3 1264.7L853.2 1265.2L856.2 1265.7L859.2 1266.1L862.1 1266.4L865.1 1266.7L868.1 1266.8L871.1 1266.7L874.1 1266.5L877.0 1266.1L879.9 1265.5L882.8 1264.7L885.7 1263.8L888.5 1262.7L891.2 1261.5L893.9 1260.2L896.4 1258.7L899.0 1257.1L901.4 1255.4L903.8 1253.6L906.1 1251.7L908.4 1249.7L910.6 1247.7L912.8 1245.6L915.0 1243.5L917.0 1241.4L919.1 1239.2L921.1 1236.9L923.0 1234.7L925.0 1232.4L926.9 1230.0L928.7 1227.7L930.6 1225.3L932.4 1222.9L934.2 1220.5L936.0 1218.1L937.7 1215.7L939.4 1213.2L941.1 1210.7L942.8 1208.3L944.5 1205.8L946.1 1203.2L947.7 1200.7L949.3 1198.2L950.9 1195.7L952.5 1193.1L954.1 1190.6L955.7 1188.0L957.3 1185.5L958.9 1182.9L960.4 1180.4L962.0 1177.8L963.6 1175.2L965.1 1172.7L966.7 1170.1L968.2 1167.5L969.7 1164.9L971.3 1162.4L972.8 1159.8L974.3 1157.2L975.8 1154.6L977.4 1152.0L978.9 1149.5L980.4 1146.9L982.0 1144.3L983.5 1141.7L985.0 1139.1L986.5 1136.5L988.1 1134.0L989.6 1131.4L991.1 1128.8L992.6 1126.2L994.1 1123.6L995.6 1121.0L997.1 1118.4L998.6 1115.8L1000.1 1113.2L1001.6 1110.6L1003.1 1108.0L1004.6 1105.4L1006.1 1102.8L1007.6 1100.2L1009.1 1097.6L1010.6 1095.0L1012.1 1092.4L1013.6 1089.8L1015.1 1087.2L1016.6 1084.6L1018.1 1082.0L1019.5 1079.4L1021.0 1076.8L1022.5 1074.2L1024.0 1071.6L1025.5 1069.0L1026.9 1066.3L1028.4 1063.7L1029.8 1061.1L1031.2 1058.4L1032.7 1055.8L1034.1 1053.2L1035.6 1050.6L1037.1 1048.0L1038.7 1045.4L1040.2 1042.8L1041.9 1040.3L1043.5 1037.8L1045.2 1035.3L1047.0 1032.9L1048.8 1030.6L1050.8 1028.2L1052.8 1026.0L1054.9 1023.9L1057.2 1022.0L1059.6 1020.4L1062.2 1019.0L1064.9 1018.0L1067.7 1017.3L1070.7 1016.9L1073.6 1016.7L1076.6 1016.8L1079.5 1017.1L1082.5 1017.5L1085.4 1018.1L1088.3 1018.8L1091.2 1019.6L1094.1 1020.3L1097.0 1021.0L1100.0 1021.4L1102.9 1021.6L1105.9 1021.6L1108.8 1021.3L1111.7 1020.7L1114.5 1019.9L1117.3 1018.8L1119.9 1017.4L1122.4 1015.8L1124.9 1014.1L1127.3 1012.3L1129.6 1010.4L1131.8 1008.4L1134.1 1006.4L1136.3 1004.4L1138.6 1002.4L1140.9 1000.5L1143.2 998.6L1145.7 996.9L1148.2 995.4L1150.9 994.1L1153.6 993.1L1156.5 992.5L1159.4 992.2L1162.3 992.2L1165.1 992.7L1167.9 993.5L1170.6 994.7L1173.1 996.2L1175.4 998.0L1177.6 1000.0L1179.6 1002.2L1181.4 1004.5L1183.2 1007.0L1184.8 1009.5L1186.4 1012.1L1187.9 1014.6L1189.4 1017.2L1190.9 1019.8L1192.4 1022.5L1193.9 1025.1L1195.4 1027.7L1196.9 1030.3L1198.5 1032.8L1200.0 1035.4L1201.6 1037.9L1203.3 1040.5L1205.0 1042.9L1206.7 1045.4L1208.6 1047.7L1210.5 1050.0L1212.6 1052.1L1214.9 1054.1L1217.3 1055.8L1219.8 1057.1L1222.5 1057.9L1225.2 1058.2L1228.0 1057.9L1230.6 1057.1L1233.1 1055.7L1235.4 1054.0L1237.6 1052.0L1239.6 1049.7L1241.4 1047.4L1243.1 1044.9L1244.7 1042.4L1246.3 1039.8L1247.7 1037.1L1249.1 1034.5L1250.5 1031.8L1251.9 1029.1L1253.2 1026.4L1254.6 1023.8L1256.0 1021.1L1257.5 1018.5L1259.1 1015.8L1260.7 1013.2L1262.3 1010.6L1264.0 1008.0L1265.8 1005.5L1267.6 1003.1L1269.5 1000.7L1271.5 998.5L1273.6 996.5L1275.8 994.7L1278.1 993.1L1280.6 991.8L1283.1 991.2L1285.6 991.2L1288.1 991.9L1290.3 993.2L1292.3 995.0L1294.1 997.1L1295.7 999.3L1297.2 1001.8L1298.5 1004.4L1299.8 1007.0L1301.0 1009.7L1302.1 1012.5L1303.3 1015.2L1304.4 1018.0L1305.5 1020.8L1306.5 1023.6L1307.6 1026.4L1308.6 1029.2L1309.7 1032.0L1310.7 1034.9L1311.7 1037.7L1312.7 1040.5L1313.7 1043.3L1314.7 1046.2L1315.7 1049.0L1316.7 1051.8L1317.7 1054.6L1318.7 1057.5L1319.7 1060.3L1320.8 1063.1L1321.8 1065.9L1322.8 1068.8L1323.8 1071.6L1324.8 1074.4L1325.8 1077.3L1326.8 1080.1L1327.8 1082.9L1328.8 1085.7L1329.8 1088.6L1330.8 1091.4L1331.8 1094.2L1332.9 1097.0L1333.9 1099.8L1334.9 1102.7L1336.0 1105.5L1337.0 1108.3L1338.1 1111.1L1339.2 1113.9L1340.3 1116.7L1341.4 1119.5L1342.5 1122.2L1343.6 1125.0L1344.7 1127.8L1345.9 1130.6L1347.1 1133.3L1348.2 1136.1L1349.4 1138.8L1350.6 1141.6L1351.8 1144.3L1353.1 1147.0L1354.3 1149.8L1355.6 1152.5L1356.9 1155.2L1358.2 1157.9L1359.6 1160.5L1360.9 1163.2L1362.3 1165.9L1363.7 1168.5L1365.2 1171.2L1366.6 1173.8L1368.1 1176.4L1369.5 1179.0L1371.0 1181.6L1372.5 1184.2L1374.0 1186.8L1375.6 1189.4L1377.1 1192.0L1378.6 1194.6L1380.2 1197.2L1381.7 1199.8L1383.3 1202.3L1384.8 1204.9L1386.4 1207.4L1388.0 1210.0L1389.6 1212.5L1391.3 1215.0L1392.9 1217.5L1394.6 1220.0L1396.3 1222.5L1398.0 1225.0L1399.7 1227.4L1401.4 1229.9L1403.2 1232.3L1405.0 1234.7L1406.8 1237.1L1408.6 1239.5L1410.4 1241.8L1412.3 1244.2L1414.2 1246.5L1416.1 1248.8L1418.0 1251.2L1419.9 1253.4L1421.9 1255.7L1423.8 1258.0L1425.8 1260.2L1427.8 1262.5L1429.8 1264.7L1431.9 1266.9L1433.9 1269.1L1436.0 1271.3L1438.0 1273.5L1440.1 1275.6L1442.2 1277.7L1444.3 1279.9L1446.5 1282.0L1448.6 1284.1L1450.8 1286.2L1452.9 1288.2L1455.1 1290.3L1457.4 1292.3L1459.6 1294.3L1461.8 1296.3L1464.1 1298.2L1466.4 1300.2L1468.7 1302.1L1471.0 1304.0L1473.3 1305.9L1475.7 1307.7L1478.1 1309.5L1480.5 1311.3L1482.9 1313.1L1485.3 1314.9L1487.7 1316.6L1490.2 1318.4L1492.7 1320.1L1495.1 1321.8L1497.6 1323.4L1500.1 1325.1L1502.6 1326.7L1505.2 1328.3L1507.7 1329.9L1510.2 1331.5L1512.8 1333.1L1515.4 1334.6L1517.9 1336.2L1520.5 1337.7L1523.1 1339.2L1525.8 1340.6L1528.4 1342.1L1531.0 1343.5L1533.7 1344.9L1536.3 1346.2L1539.0 1347.6L1541.7 1348.9L1544.4 1350.1L1547.2 1351.4L1549.9 1352.6L1552.7 1353.7L1555.5 1354.9L1558.2 1356.0L1561.0 1357.1L1563.8 1358.1L1566.7 1359.1L1569.5 1360.1L1572.3 1361.1L1575.2 1362.1L1578.0 1363.0L1580.9 1363.9L1583.7 1364.9L1586.6 1365.8L1589.4 1366.7L1592.3 1367.7L1595.1 1368.7L1598.0 1369.6L1600.8 1370.6L1603.6 1371.6L1606.5 1372.6L1609.3 1373.6L1612.1 1374.5L1615.0 1375.4L1617.8 1376.3L1620.7 1377.0L1623.6 1377.8L1626.5 1378.4L1629.4 1379.0L1632.3 1379.5L1635.3 1380.0L1638.2 1380.4L1641.2 1380.8L1644.2 1381.2L1647.1 1381.5L1650.1 1381.8L1653.1 1382.1L1656.1 1382.3L1659.1 1382.6L1662.1 1382.8L1665.1 1383.1L1668.1 1383.3L1671.1 1383.5L1674.1 1383.7L1677.1 1384.0L1680.0 1384.2L1683.0 1384.4L1686.0 1384.6L1689.0 1384.8L1692.0 1385.0L1695.0 1385.2L1698.0 1385.4L1701.0 1385.6L1704.0 1385.7L1707.0 1385.9L1710.0 1386.1L1713.0 1386.3L1716.0 1386.4L1719.0 1386.6L1722.0 1386.7L1725.0 1386.8L1728.0 1386.9L1731.0 1387.0L1734.0 1387.1L1737.0 1387.2L1739.9 1387.3L1742.9 1387.4L1745.9 1387.5L1748.9 1387.6L1751.9 1387.7L1754.9 1387.8L1757.9 1387.9L1760.9 1388.1L1763.9 1388.2L1766.9 1388.3L1769.9 1388.4L1772.9 1388.6L1775.9 1388.7L1778.9 1388.8L1781.9 1388.9L1784.9 1389.0L1787.9 1389.1L1790.9 1389.2L1793.9 1389.3L1796.9 1389.4L1799.9 1389.5L1802.9 1389.6L1805.9 1389.7L1808.9 1389.8L1811.9 1389.9L1814.9 1390.0L1817.9 1390.1L1820.9 1390.2L1823.9 1390.3L1826.9 1390.4L1829.9 1390.5L1832.9 1390.6L1835.9 1390.7L1838.9 1390.9L1841.9 1391.0L1844.9 1391.1L1847.9 1391.2L1850.9 1391.4L1853.9 1391.5L1856.9 1391.7L1859.9 1391.8L1862.9 1392.0L1865.9 1392.1L1868.8 1392.3L1871.8 1392.4L1874.8 1392.6L1877.8 1392.8L1880.8 1392.9L1883.8 1393.1L1886.8 1393.3L1889.8 1393.5L1892.8 1393.7L1895.8 1393.9L1898.8 1394.1L1901.8 1394.3L1904.8 1394.5L1907.8 1394.7L1910.8 1394.9L1913.8 1395.1L1916.8 1395.3L1919.7 1395.5L1922.7 1395.7L1925.7 1396.0L1928.7 1396.2L1931.7 1396.4L1934.7 1396.7L1937.7 1396.9L1940.7 1397.1L1943.7 1397.4L1946.7 1397.6L1949.7 1397.8L1952.6 1398.1L1955.6 1398.3L1958.6 1398.6L1961.6 1398.8L1964.6 1399.0L1967.6 1399.2L1970.6 1399.5L1973.6 1399.7L1976.6 1399.9L1979.6 1400.1L1982.6 1400.3L1985.6 1400.5L1988.5 1400.7L1991.5 1400.9L1994.5 1401.1L1997.5 1401.3L2000.5 1401.5L2003.5 1401.7L2006.4 1401.9L2009.4 1402.1L2012.3 1402.3L2015.2 1402.5L2018.1 1402.6L2020.9 1402.8L2023.7 1403.0L2026.5 1403.1L2029.3 1403.3L2032.0 1403.5" stroke="#005FE0" stroke-width="10"/>
<path d="M264.0 533.8L266.4 532.0L268.8 530.2L271.3 528.4L273.7 526.5L275.6 524.3L276.9 521.6L278.0 518.5L279.1 515.4L280.3 512.8L282.1 511.1L284.7 510.0L287.7 509.1L290.5 507.7L293.1 506.0L295.5 505.4L297.7 507.2L299.7 509.9L302.1 511.0L305.0 510.5L307.9 510.3L310.1 511.8L312.2 514.6L314.2 516.9L316.7 517.2L319.4 516.1L322.2 514.7L325.0 513.2L327.7 511.6L330.4 510.2L333.1 509.7L335.9 510.6L338.5 512.2L340.7 514.2L342.6 516.6L344.5 519.2L346.4 521.4L348.8 522.9L351.7 523.8L354.5 524.8L357.0 526.2L359.3 528.2L361.5 530.3L363.8 532.3L366.2 534.1L368.7 535.7L371.3 537.3L374.0 538.7L376.8 539.8L379.5 541.0L382.0 542.6L384.2 544.8L386.3 547.2L388.5 549.4L390.8 550.9L393.6 551.7L396.6 552.2L399.6 552.4L402.2 551.5L404.7 549.4L407.2 547.9L410.0 547.8L413.0 548.4L415.9 548.6L418.7 547.9L421.5 546.6L424.3 545.3L427.2 544.4L430.1 543.8L433.1 543.3L436.1 543.1L439.0 543.5L441.9 544.4L444.8 545.2L447.8 545.5L450.9 545.4L453.9 545.2L456.9 545.1L459.6 545.3L461.9 546.8L464.1 549.2L466.5 551.1L469.3 552.2L472.2 553.0L475.3 553.7L478.0 554.6L480.5 556.0L482.6 558.0L484.7 560.3L486.7 562.6L488.9 564.8L491.2 566.7L493.7 568.4L496.2 570.2L498.5 572.1L500.5 574.2L502.3 576.6L504.0 579.1L505.8 581.6L507.8 583.7L510.0 585.7L512.4 587.4L514.9 589.1L517.5 590.7L520.1 592.3L522.6 594.0L525.0 595.8L527.3 597.7L529.6 599.6L531.9 601.6L534.2 603.5L536.5 605.5L538.8 607.3L541.2 609.1L543.7 610.8L546.2 612.4L548.7 614.1L551.1 616.0L553.3 617.9L555.5 619.9L557.6 622.1L559.7 624.3L561.8 626.4L563.9 628.6L566.1 630.7L568.4 632.8L570.6 634.9L572.6 637.0L574.4 639.4L575.8 641.8L577.0 644.5L578.1 647.3L579.1 650.2L580.0 653.1L581.0 655.9L582.1 658.8L583.2 661.6L584.2 664.4L585.3 667.2L586.4 670.0L587.5 672.8L588.5 675.6L589.5 678.4L590.5 681.3L591.4 684.1L592.4 686.9L593.3 689.8L594.3 692.7L595.2 695.5L596.1 698.4L597.0 701.2L597.9 704.1L598.8 707.0L599.6 709.8L600.5 712.7L601.4 715.6L602.2 718.4L603.1 721.3L603.9 724.2L604.8 727.1L605.6 730.0L606.4 732.9L607.2 735.8L607.9 738.7L608.7 741.6L609.4 744.5L610.1 747.4L610.7 750.3L611.4 753.3L612.0 756.2L612.6 759.1L613.3 762.1L613.8 765.0L614.4 767.9L615.0 770.9L615.6 773.8L616.1 776.8L616.7 779.7L617.3 782.7L617.8 785.6L618.4 788.6L618.9 791.5L619.5 794.5L620.0 797.4L620.5 800.4L621.0 803.3L621.5 806.3L622.0 809.2L622.5 812.2L623.0 815.2L623.5 818.1L624.0 821.1L624.5 824.0L625.0 827.0L625.5 830.0L626.0 832.9L626.4 835.9L626.9 838.8L627.4 841.8L627.8 844.8L628.2 847.7L628.7 850.7L629.1 853.7L629.6 856.7L630.0 859.6L630.4 862.6L630.8 865.6L631.2 868.5L631.6 871.5L631.9 874.5L632.2 877.5L632.5 880.5L632.9 883.4L633.2 886.4L633.6 889.4L633.9 892.4L634.4 895.3L634.8 898.3L635.3 901.3L635.7 904.2L636.2 907.2L636.8 910.1L637.3 913.1L637.8 916.1L638.4 919.0L638.9 922.0L639.4 924.9L640.0 927.9L640.5 930.8L641.1 933.8L641.6 936.7L642.1 939.7L642.6 942.6L643.1 945.6L643.6 948.6L644.1 951.5L644.5 954.5L645.0 957.4L645.5 960.4L646.0 963.4L646.4 966.3L646.9 969.3L647.4 972.3L647.9 975.2L648.3 978.2L648.8 981.1L649.3 984.1L649.7 987.1L650.2 990.0L650.6 993.0L651.1 996.0L651.6 998.9L652.0 1001.9L652.5 1004.9L652.9 1007.8L653.4 1010.8L653.8 1013.8L654.3 1016.7L654.7 1019.7L655.2 1022.7L655.6 1025.6L656.0 1028.6L656.5 1031.6L656.9 1034.5L657.4 1037.5L657.8 1040.5L658.2 1043.4L658.7 1046.4L659.1 1049.4L659.5 1052.3L660.0 1055.3L660.4 1058.3L660.9 1061.2L661.3 1064.2L661.8 1067.2L662.2 1070.1L662.6 1073.1L663.0 1076.1L663.4 1079.1L663.9 1082.0L664.3 1085.0L664.7 1088.0L665.1 1091.0L665.6 1093.9L666.0 1096.9L666.5 1099.9L666.9 1102.8L667.4 1105.8L667.9 1108.8L668.5 1111.7L669.0 1114.6L669.6 1117.6L670.2 1120.5L670.9 1123.4L671.6 1126.3L672.3 1129.2L673.1 1132.1L673.9 1135.0L674.7 1137.9L675.5 1140.8L676.4 1143.7L677.2 1146.6L678.1 1149.4L679.0 1152.3L679.9 1155.2L680.8 1158.0L681.7 1160.9L682.7 1163.7L683.7 1166.5L684.8 1169.3L685.8 1172.1L686.9 1174.9L688.1 1177.7L689.2 1180.5L690.4 1183.2L691.6 1186.0L692.9 1188.7L694.2 1191.4L695.5 1194.1L696.8 1196.8L698.2 1199.5L699.7 1202.1L701.2 1204.7L702.8 1207.2L704.4 1209.7L706.2 1212.2L708.0 1214.6L709.9 1216.9L711.9 1219.1L714.0 1221.2L716.1 1223.3L718.4 1225.2L720.8 1227.1L723.3 1228.7L725.8 1230.3L728.5 1231.6L731.2 1232.7L734.1 1233.6L737.0 1234.3L739.9 1234.8L742.9 1235.1L745.8 1235.3L748.8 1235.3L751.8 1235.1L754.7 1234.8L757.7 1234.3L760.6 1233.6L763.5 1232.9L766.4 1232.0L769.3 1231.2L772.1 1230.3L775.0 1229.4L777.9 1228.6L780.8 1228.0L783.7 1227.5L786.7 1227.3L789.6 1227.3L792.5 1227.7L795.4 1228.4L798.2 1229.3L801.0 1230.3L803.8 1231.4L806.6 1232.6L809.4 1233.6L812.2 1234.7L815.0 1235.6L817.9 1236.4L820.8 1237.1L823.7 1237.8L826.7 1238.4L829.6 1238.9L832.6 1239.5L835.5 1240.0L838.5 1240.4L841.5 1240.9L844.4 1241.4L847.4 1241.8L850.4 1242.3L853.3 1242.7L856.3 1243.0L859.3 1243.3L862.3 1243.6L865.3 1243.6L868.3 1243.6L871.2 1243.4L874.2 1243.0L877.1 1242.4L880.0 1241.7L882.8 1240.8L885.6 1239.6L888.3 1238.4L890.9 1236.9L893.4 1235.3L895.9 1233.6L898.3 1231.8L900.6 1229.9L902.8 1227.9L905.0 1225.9L907.1 1223.7L909.2 1221.6L911.2 1219.3L913.2 1217.1L915.1 1214.8L917.0 1212.5L918.9 1210.1L920.7 1207.7L922.5 1205.3L924.3 1202.9L926.1 1200.5L927.8 1198.1L929.5 1195.6L931.2 1193.1L932.9 1190.6L934.5 1188.1L936.2 1185.6L937.8 1183.1L939.3 1180.5L940.9 1178.0L942.5 1175.4L944.0 1172.8L945.5 1170.2L947.1 1167.6L948.6 1165.1L950.1 1162.5L951.6 1159.9L953.1 1157.2L954.5 1154.6L956.0 1152.0L957.5 1149.4L958.9 1146.8L960.4 1144.2L961.9 1141.6L963.3 1138.9L964.8 1136.3L966.2 1133.7L967.6 1131.0L969.0 1128.4L970.4 1125.7L971.7 1123.0L973.1 1120.3L974.4 1117.7L975.8 1115.0L977.1 1112.3L978.4 1109.6L979.8 1106.9L981.1 1104.2L982.4 1101.5L983.8 1098.9L985.1 1096.2L986.5 1093.5L987.8 1090.8L989.2 1088.1L990.5 1085.4L991.8 1082.8L993.2 1080.1L994.5 1077.4L995.9 1074.7L997.3 1072.1L998.6 1069.4L1000.0 1066.7L1001.3 1064.0L1002.7 1061.3L1004.0 1058.6L1005.3 1056.0L1006.6 1053.3L1007.9 1050.6L1009.2 1047.8L1010.5 1045.1L1011.7 1042.4L1012.9 1039.7L1014.2 1036.9L1015.4 1034.2L1016.6 1031.4L1017.9 1028.7L1019.1 1026.0L1020.4 1023.3L1021.6 1020.5L1022.9 1017.8L1024.1 1015.1L1025.4 1012.4L1026.7 1009.7L1028.0 1007.0L1029.3 1004.2L1030.6 1001.6L1032.0 998.9L1033.3 996.2L1034.8 993.6L1036.2 990.9L1037.7 988.3L1039.2 985.7L1040.8 983.2L1042.4 980.7L1044.2 978.2L1046.0 975.9L1048.0 973.6L1050.1 971.5L1052.3 969.5L1054.7 967.8L1057.3 966.4L1059.9 965.3L1062.7 964.7L1065.6 964.4L1068.4 964.6L1071.3 965.2L1074.1 965.9L1076.9 966.8L1079.8 967.6L1082.7 968.3L1085.7 968.9L1088.6 969.4L1091.6 969.9L1094.5 970.4L1097.5 970.8L1100.5 971.0L1103.4 971.0L1106.4 970.9L1109.4 970.6L1112.3 970.0L1115.1 969.2L1117.9 968.2L1120.5 966.9L1123.1 965.4L1125.5 963.7L1127.8 961.8L1130.1 959.8L1132.3 957.7L1134.4 955.6L1136.6 953.5L1138.7 951.5L1140.9 949.4L1143.2 947.4L1145.5 945.5L1147.9 943.7L1150.3 942.1L1152.9 940.6L1155.6 939.5L1158.4 938.7L1161.2 938.3L1164.1 938.4L1166.9 939.0L1169.6 940.0L1172.1 941.4L1174.4 943.1L1176.6 945.1L1178.6 947.3L1180.4 949.7L1182.2 952.1L1183.8 954.6L1185.3 957.2L1186.8 959.8L1188.3 962.4L1189.8 965.1L1191.2 967.7L1192.7 970.3L1194.1 973.0L1195.5 975.6L1197.0 978.2L1198.5 980.8L1200.0 983.4L1201.5 986.0L1203.1 988.6L1204.7 991.1L1206.3 993.7L1208.0 996.2L1209.8 998.6L1211.7 1000.9L1213.8 1003.0L1216.0 1004.9L1218.5 1006.5L1221.1 1007.6L1223.8 1008.3L1226.6 1008.5L1229.3 1008.1L1231.9 1007.2L1234.4 1005.8L1236.7 1004.0L1238.8 1001.9L1240.7 999.7L1242.5 997.3L1244.2 994.8L1245.8 992.2L1247.3 989.6L1248.7 987.0L1250.0 984.3L1251.4 981.6L1252.7 978.9L1254.1 976.2L1255.6 973.6L1257.0 970.9L1258.5 968.3L1260.1 965.7L1261.7 963.0L1263.3 960.5L1264.9 957.9L1266.6 955.4L1268.4 953.0L1270.3 950.7L1272.2 948.4L1274.2 946.4L1276.4 944.5L1278.7 943.0L1281.1 942.1L1283.5 942.0L1285.9 942.6L1288.1 943.9L1290.1 945.6L1291.9 947.7L1293.4 950.1L1294.9 952.6L1296.2 955.2L1297.4 957.9L1298.6 960.6L1299.7 963.3L1300.8 966.1L1301.8 968.9L1302.8 971.7L1303.8 974.5L1304.8 977.4L1305.8 980.2L1306.7 983.1L1307.7 985.9L1308.6 988.8L1309.6 991.6L1310.5 994.5L1311.5 997.3L1312.4 1000.1L1313.4 1003.0L1314.3 1005.8L1315.3 1008.7L1316.2 1011.5L1317.2 1014.4L1318.1 1017.2L1319.1 1020.1L1320.0 1022.9L1321.0 1025.8L1321.9 1028.6L1322.9 1031.5L1323.8 1034.3L1324.8 1037.1L1325.7 1040.0L1326.7 1042.8L1327.6 1045.7L1328.6 1048.5L1329.5 1051.4L1330.5 1054.2L1331.5 1057.1L1332.4 1059.9L1333.4 1062.7L1334.4 1065.6L1335.4 1068.4L1336.4 1071.2L1337.4 1074.0L1338.4 1076.9L1339.5 1079.7L1340.5 1082.5L1341.6 1085.3L1342.6 1088.1L1343.7 1090.9L1344.8 1093.7L1345.9 1096.5L1347.0 1099.3L1348.1 1102.1L1349.3 1104.8L1350.4 1107.6L1351.6 1110.4L1352.7 1113.1L1353.9 1115.9L1355.1 1118.6L1356.4 1121.4L1357.6 1124.1L1358.9 1126.8L1360.2 1129.5L1361.5 1132.2L1362.9 1134.9L1364.2 1137.5L1365.6 1140.2L1367.0 1142.8L1368.5 1145.4L1369.9 1148.1L1371.4 1150.7L1372.9 1153.3L1374.3 1155.9L1375.8 1158.5L1377.3 1161.2L1378.8 1163.8L1380.2 1166.4L1381.7 1169.0L1383.2 1171.6L1384.6 1174.2L1386.1 1176.8L1387.6 1179.4L1389.1 1182.0L1390.7 1184.6L1392.2 1187.2L1393.8 1189.7L1395.4 1192.2L1397.0 1194.8L1398.7 1197.3L1400.3 1199.7L1402.1 1202.2L1403.8 1204.6L1405.5 1207.1L1407.3 1209.5L1409.1 1211.9L1410.9 1214.3L1412.7 1216.7L1414.5 1219.1L1416.4 1221.4L1418.2 1223.8L1420.1 1226.1L1422.0 1228.4L1424.0 1230.7L1425.9 1233.0L1427.9 1235.3L1429.9 1237.5L1431.9 1239.7L1433.9 1241.9L1436.0 1244.1L1438.0 1246.3L1440.1 1248.5L1442.2 1250.6L1444.3 1252.7L1446.4 1254.8L1448.6 1256.9L1450.8 1259.0L1452.9 1261.1L1455.1 1263.1L1457.3 1265.1L1459.6 1267.1L1461.8 1269.1L1464.1 1271.1L1466.4 1273.0L1468.7 1275.0L1471.0 1276.9L1473.3 1278.8L1475.6 1280.6L1478.0 1282.5L1480.4 1284.3L1482.7 1286.2L1485.1 1288.0L1487.5 1289.8L1489.9 1291.6L1492.3 1293.4L1494.8 1295.1L1497.2 1296.9L1499.6 1298.6L1502.1 1300.3L1504.6 1302.0L1507.0 1303.7L1509.5 1305.4L1512.0 1307.1L1514.5 1308.7L1517.0 1310.4L1519.6 1312.0L1522.1 1313.6L1524.6 1315.2L1527.2 1316.7L1529.8 1318.3L1532.3 1319.8L1534.9 1321.3L1537.5 1322.8L1540.1 1324.3L1542.8 1325.8L1545.4 1327.2L1548.0 1328.6L1550.7 1330.0L1553.3 1331.4L1556.0 1332.8L1558.7 1334.2L1561.4 1335.5L1564.1 1336.8L1566.8 1338.1L1569.5 1339.3L1572.2 1340.6L1574.9 1341.8L1577.7 1343.0L1580.5 1344.2L1583.2 1345.3L1586.0 1346.5L1588.8 1347.6L1591.6 1348.7L1594.4 1349.7L1597.2 1350.8L1600.0 1351.8L1602.8 1352.8L1605.7 1353.7L1608.5 1354.7L1611.4 1355.6L1614.2 1356.5L1617.1 1357.3L1620.0 1358.2L1622.9 1359.0L1625.8 1359.8L1628.7 1360.5L1631.6 1361.3L1634.5 1362.0L1637.4 1362.7L1640.3 1363.3L1643.3 1364.0L1646.2 1364.7L1649.1 1365.3L1652.0 1366.0L1655.0 1366.7L1657.9 1367.3L1660.8 1368.0L1663.8 1368.7L1666.7 1369.4L1669.6 1370.0L1672.5 1370.7L1675.5 1371.4L1678.4 1372.0L1681.3 1372.6L1684.3 1373.2L1687.2 1373.8L1690.2 1374.3L1693.1 1374.8L1696.1 1375.2L1699.0 1375.6L1702.0 1376.0L1705.0 1376.3L1708.0 1376.6L1710.9 1376.9L1713.9 1377.1L1716.9 1377.4L1719.9 1377.5L1722.9 1377.7L1725.9 1377.9L1728.9 1378.0L1731.9 1378.1L1734.9 1378.3L1737.9 1378.4L1740.9 1378.5L1743.9 1378.6L1746.9 1378.7L1749.9 1378.8L1752.9 1379.0L1755.9 1379.1L1758.9 1379.2L1761.9 1379.4L1764.9 1379.5L1767.9 1379.7L1770.8 1379.8L1773.8 1380.0L1776.8 1380.1L1779.8 1380.3L1782.8 1380.5L1785.8 1380.6L1788.8 1380.8L1791.8 1381.0L1794.8 1381.2L1797.8 1381.3L1800.8 1381.5L1803.8 1381.7L1806.8 1381.8L1809.8 1381.9L1812.8 1382.1L1815.8 1382.2L1818.8 1382.3L1821.8 1382.5L1824.8 1382.6L1827.8 1382.7L1830.8 1382.7L1833.8 1382.8L1836.8 1382.9L1839.8 1383.0L1842.8 1383.1L1845.8 1383.1L1848.8 1383.2L1851.8 1383.3L1854.8 1383.4L1857.8 1383.5L1860.8 1383.5L1863.8 1383.6L1866.8 1383.7L1869.8 1383.9L1872.8 1384.0L1875.7 1384.1L1878.7 1384.3L1881.7 1384.4L1884.7 1384.6L1887.7 1384.8L1890.7 1384.9L1893.7 1385.1L1896.7 1385.3L1899.7 1385.5L1902.7 1385.7L1905.7 1386.0L1908.7 1386.2L1911.7 1386.4L1914.7 1386.6L1917.7 1386.9L1920.6 1387.1L1923.6 1387.3L1926.6 1387.6L1929.6 1387.8L1932.6 1388.0L1935.6 1388.3L1938.6 1388.5L1941.6 1388.8L1944.6 1389.0L1947.6 1389.3L1950.5 1389.6L1953.5 1389.8L1956.5 1390.1L1959.5 1390.3L1962.5 1390.6L1965.5 1390.8L1968.5 1391.1L1971.5 1391.4L1974.5 1391.6L1977.4 1391.9L1980.4 1392.1L1983.4 1392.3L1986.4 1392.6L1989.4 1392.8L1992.4 1393.1L1995.4 1393.3L1998.4 1393.6L2001.4 1393.8L2004.3 1394.0L2007.3 1394.3L2010.3 1394.5L2013.2 1394.8L2016.1 1395.0L2019.1 1395.2L2022.0 1395.5L2024.8 1395.7L2027.7 1395.9L2030.6 1396.1L2032.0 1396.3" stroke="#00AB58" stroke-width="10"/>
<path d="M264.0 563.7L266.3 561.7L268.8 560.2L271.5 559.1L274.5 558.4L277.5 557.8L280.4 557.3L283.4 557.0L286.4 556.6L289.3 556.1L292.1 555.0L294.7 553.5L297.4 552.0L300.1 550.9L303.0 550.1L305.9 549.3L308.8 548.2L311.6 546.6L314.2 545.4L316.4 545.7L318.3 548.0L320.1 551.0L322.2 553.2L324.7 554.1L327.7 554.5L330.8 554.9L333.7 555.7L336.5 556.9L339.2 558.2L341.8 559.7L344.4 561.3L347.0 562.8L349.8 563.9L352.8 564.5L355.8 565.0L358.2 566.0L360.0 567.9L361.6 570.7L363.1 573.6L364.9 576.2L366.7 578.8L368.6 581.4L370.6 583.5L372.9 585.0L375.6 585.8L378.6 586.4L381.7 587.0L384.7 587.6L387.6 588.4L390.2 589.7L392.6 591.9L394.9 593.4L397.2 592.9L399.6 591.1L402.1 588.9L404.7 587.2L407.4 586.0L410.2 585.0L413.1 584.0L416.0 583.2L418.9 582.4L421.8 581.8L424.7 581.1L427.6 580.3L430.6 579.6L433.5 579.0L436.5 578.8L439.5 578.8L442.5 579.0L445.5 579.2L448.5 579.5L451.4 579.8L454.4 580.1L457.4 580.6L460.4 581.1L463.4 581.5L466.5 582.0L469.6 582.5L472.4 583.2L474.7 584.3L476.6 586.3L478.3 589.0L480.0 591.8L482.0 594.1L484.2 596.0L486.7 597.8L489.1 599.5L491.6 601.3L493.9 603.2L496.2 605.2L498.4 607.2L500.6 609.2L502.8 611.3L504.9 613.5L507.0 615.6L509.2 617.6L511.6 619.3L514.2 620.8L516.8 622.3L519.3 624.0L521.6 625.9L523.9 627.9L526.1 629.9L528.3 631.9L530.6 633.9L533.0 635.8L535.3 637.6L537.7 639.4L540.3 641.0L542.9 642.4L545.6 643.8L548.3 645.2L550.8 646.8L553.1 648.6L555.2 650.7L557.2 653.0L559.4 655.1L561.7 657.0L564.2 658.7L566.8 660.4L569.1 662.2L571.2 664.3L573.1 666.6L574.8 669.1L576.3 671.6L577.7 674.3L578.8 677.1L579.8 679.9L580.9 682.7L582.1 685.5L583.4 688.2L584.7 690.9L586.0 693.6L587.3 696.3L588.4 699.1L589.5 701.8L590.5 704.7L591.5 707.5L592.5 710.3L593.4 713.2L594.4 716.0L595.3 718.9L596.2 721.8L597.1 724.6L597.9 727.5L598.8 730.4L599.7 733.2L600.5 736.1L601.3 739.0L602.2 741.9L603.0 744.8L603.7 747.7L604.5 750.6L605.2 753.5L605.9 756.4L606.6 759.3L607.3 762.2L607.9 765.2L608.6 768.1L609.2 771.0L609.8 774.0L610.4 776.9L611.0 779.9L611.6 782.8L612.2 785.7L612.8 788.7L613.4 791.6L614.0 794.5L614.6 797.5L615.2 800.4L615.8 803.4L616.4 806.3L616.9 809.3L617.5 812.2L618.0 815.2L618.5 818.1L619.0 821.1L619.5 824.0L620.0 827.0L620.5 830.0L621.0 832.9L621.5 835.9L622.0 838.8L622.5 841.8L622.9 844.8L623.4 847.7L623.9 850.7L624.4 853.6L624.8 856.6L625.3 859.6L625.7 862.5L626.2 865.5L626.6 868.5L626.9 871.5L627.3 874.4L627.7 877.4L628.0 880.4L628.4 883.4L628.8 886.3L629.3 889.3L629.8 892.3L630.3 895.2L630.9 898.1L631.5 901.1L632.1 904.0L632.8 906.9L633.5 909.8L634.2 912.7L635.0 915.7L635.7 918.6L636.5 921.5L637.2 924.4L638.0 927.3L638.7 930.2L639.4 933.1L640.1 936.1L640.8 939.0L641.4 941.9L642.1 944.8L642.7 947.8L643.3 950.7L643.8 953.7L644.4 956.6L645.0 959.5L645.5 962.5L646.1 965.4L646.6 968.4L647.2 971.3L647.7 974.3L648.2 977.3L648.8 980.2L649.3 983.2L649.8 986.1L650.4 989.1L650.9 992.0L651.5 995.0L652.0 997.9L652.5 1000.9L653.1 1003.8L653.6 1006.8L654.2 1009.7L654.7 1012.7L655.3 1015.6L655.8 1018.6L656.4 1021.5L656.9 1024.5L657.5 1027.4L658.0 1030.4L658.6 1033.3L659.1 1036.3L659.7 1039.2L660.2 1042.2L660.8 1045.1L661.3 1048.1L661.9 1051.0L662.5 1054.0L663.0 1056.9L663.6 1059.8L664.1 1062.8L664.7 1065.7L665.3 1068.7L665.8 1071.6L666.4 1074.6L666.9 1077.5L667.5 1080.5L668.0 1083.5L668.6 1086.4L669.1 1089.4L669.7 1092.3L670.3 1095.3L670.9 1098.2L671.5 1101.1L672.1 1104.1L672.7 1107.0L673.4 1109.9L674.0 1112.8L674.7 1115.8L675.5 1118.7L676.2 1121.6L677.0 1124.4L677.9 1127.3L678.7 1130.2L679.6 1133.1L680.6 1135.9L681.5 1138.8L682.5 1141.6L683.4 1144.4L684.4 1147.3L685.4 1150.1L686.5 1152.9L687.5 1155.7L688.6 1158.5L689.8 1161.3L691.0 1164.0L692.2 1166.8L693.5 1169.5L694.8 1172.2L696.1 1174.9L697.4 1177.6L698.8 1180.2L700.2 1182.9L701.6 1185.5L703.1 1188.2L704.6 1190.8L706.1 1193.4L707.7 1195.9L709.3 1198.4L711.0 1200.9L712.8 1203.3L714.6 1205.7L716.6 1207.9L718.6 1210.1L720.8 1212.1L723.1 1214.0L725.6 1215.7L728.1 1217.3L730.8 1218.6L733.5 1219.7L736.4 1220.6L739.3 1221.2L742.2 1221.7L745.2 1221.9L748.1 1222.0L751.1 1221.9L754.1 1221.7L757.0 1221.3L760.0 1220.8L762.9 1220.1L765.8 1219.3L768.7 1218.6L771.6 1217.8L774.5 1217.1L777.5 1216.4L780.4 1215.8L783.3 1215.4L786.3 1215.1L789.2 1215.2L792.1 1215.5L795.0 1216.1L797.9 1216.9L800.7 1217.8L803.5 1218.8L806.4 1219.8L809.2 1220.8L812.0 1221.8L814.9 1222.7L817.8 1223.5L820.7 1224.2L823.6 1224.9L826.5 1225.5L829.5 1226.0L832.5 1226.5L835.4 1226.9L838.4 1227.3L841.4 1227.6L844.4 1228.0L847.4 1228.2L850.3 1228.5L853.3 1228.7L856.3 1228.9L859.3 1229.0L862.3 1229.0L865.3 1228.9L868.3 1228.7L871.2 1228.2L874.1 1227.6L877.0 1226.8L879.8 1225.9L882.6 1224.8L885.3 1223.5L888.0 1222.2L890.6 1220.7L893.1 1219.1L895.6 1217.4L898.0 1215.6L900.4 1213.8L902.7 1211.8L904.9 1209.8L907.1 1207.8L909.2 1205.7L911.3 1203.5L913.3 1201.3L915.3 1199.1L917.3 1196.8L919.2 1194.5L921.1 1192.1L922.9 1189.8L924.8 1187.4L926.6 1185.0L928.4 1182.6L930.1 1180.2L931.8 1177.7L933.6 1175.3L935.2 1172.8L936.9 1170.3L938.5 1167.8L940.2 1165.2L941.8 1162.7L943.4 1160.2L945.0 1157.6L946.5 1155.1L948.1 1152.5L949.6 1149.9L951.2 1147.3L952.7 1144.8L954.2 1142.2L955.7 1139.6L957.2 1137.0L958.7 1134.4L960.2 1131.8L961.7 1129.2L963.2 1126.6L964.7 1124.0L966.2 1121.4L967.6 1118.8L969.1 1116.1L970.6 1113.5L972.0 1110.9L973.5 1108.3L974.9 1105.6L976.4 1103.0L977.8 1100.4L979.3 1097.8L980.7 1095.1L982.2 1092.5L983.7 1089.9L985.2 1087.3L986.7 1084.7L988.2 1082.1L989.7 1079.5L991.2 1076.9L992.7 1074.3L994.2 1071.7L995.7 1069.1L997.2 1066.5L998.7 1063.9L1000.1 1061.3L1001.6 1058.7L1003.0 1056.0L1004.5 1053.4L1005.9 1050.8L1007.3 1048.1L1008.6 1045.4L1010.0 1042.8L1011.3 1040.1L1012.6 1037.4L1013.9 1034.7L1015.2 1032.0L1016.5 1029.2L1017.8 1026.5L1019.1 1023.8L1020.4 1021.1L1021.7 1018.4L1023.0 1015.7L1024.3 1013.0L1025.6 1010.3L1026.9 1007.6L1028.2 1004.9L1029.5 1002.2L1030.9 999.5L1032.2 996.9L1033.6 994.2L1035.1 991.6L1036.5 989.0L1038.0 986.4L1039.6 983.8L1041.2 981.3L1042.9 978.8L1044.7 976.4L1046.6 974.1L1048.6 971.9L1050.7 969.8L1053.0 967.8L1055.4 966.1L1057.9 964.6L1060.6 963.3L1063.3 962.3L1066.2 961.5L1069.1 960.9L1072.1 960.4L1075.0 959.9L1078.0 959.5L1081.0 959.2L1084.0 958.8L1087.0 958.4L1089.9 958.0L1092.9 957.5L1095.8 957.0L1098.8 956.4L1101.6 955.6L1104.4 954.6L1107.1 953.4L1109.8 952.0L1112.3 950.5L1114.8 948.8L1117.2 947.0L1119.5 945.1L1121.7 943.1L1123.9 941.1L1126.1 939.0L1128.2 936.8L1130.3 934.7L1132.4 932.6L1134.6 930.5L1136.8 928.5L1139.2 926.7L1141.6 925.0L1144.2 923.6L1146.9 922.4L1149.7 921.5L1152.6 920.9L1155.5 920.6L1158.4 920.7L1161.4 921.1L1164.2 921.7L1167.0 922.7L1169.6 924.0L1172.2 925.5L1174.5 927.2L1176.8 929.2L1178.9 931.3L1181.0 933.5L1182.9 935.8L1184.8 938.1L1186.7 940.5L1188.5 942.9L1190.2 945.3L1192.0 947.7L1193.7 950.2L1195.5 952.6L1197.2 955.1L1199.0 957.5L1200.7 959.9L1202.6 962.3L1204.5 964.6L1206.5 966.8L1208.7 968.8L1211.0 970.7L1213.5 972.2L1216.1 973.4L1218.9 974.2L1221.7 974.5L1224.5 974.4L1227.3 973.8L1230.0 972.7L1232.5 971.3L1234.9 969.6L1237.1 967.6L1239.2 965.5L1241.1 963.2L1243.0 960.8L1244.7 958.4L1246.5 955.9L1248.1 953.4L1249.8 950.8L1251.4 948.3L1253.1 945.8L1254.9 943.4L1256.8 941.1L1258.8 939.0L1261.1 937.0L1263.4 935.0L1266.0 933.3L1268.6 931.7L1271.4 930.5L1274.1 929.6L1276.9 929.2L1279.7 929.4L1282.4 930.0L1285.1 931.0L1287.5 932.4L1289.9 934.2L1292.0 936.1L1294.0 938.2L1295.9 940.5L1297.6 942.8L1299.3 945.3L1300.9 947.8L1302.4 950.4L1303.8 953.0L1305.2 955.6L1306.6 958.3L1307.9 961.0L1309.1 963.7L1310.3 966.4L1311.5 969.2L1312.7 972.0L1313.8 974.7L1314.9 977.5L1315.9 980.3L1317.0 983.1L1318.0 986.0L1319.0 988.8L1320.0 991.6L1321.0 994.5L1321.9 997.3L1322.9 1000.1L1323.8 1003.0L1324.8 1005.8L1325.8 1008.7L1326.7 1011.5L1327.6 1014.4L1328.6 1017.2L1329.5 1020.1L1330.5 1022.9L1331.4 1025.8L1332.4 1028.6L1333.3 1031.4L1334.3 1034.3L1335.2 1037.1L1336.2 1040.0L1337.2 1042.8L1338.1 1045.7L1339.1 1048.5L1340.1 1051.3L1341.1 1054.2L1342.1 1057.0L1343.1 1059.8L1344.2 1062.6L1345.3 1065.4L1346.3 1068.2L1347.4 1071.0L1348.5 1073.8L1349.6 1076.6L1350.8 1079.3L1351.9 1082.1L1353.1 1084.9L1354.3 1087.6L1355.5 1090.4L1356.7 1093.1L1357.9 1095.9L1359.1 1098.6L1360.4 1101.3L1361.6 1104.1L1362.9 1106.8L1364.2 1109.5L1365.5 1112.2L1366.8 1114.9L1368.2 1117.6L1369.5 1120.2L1370.9 1122.9L1372.3 1125.6L1373.6 1128.2L1375.0 1130.9L1376.4 1133.5L1377.8 1136.2L1379.3 1138.8L1380.7 1141.5L1382.1 1144.1L1383.5 1146.8L1384.9 1149.4L1386.3 1152.1L1387.7 1154.7L1389.2 1157.3L1390.6 1160.0L1392.1 1162.6L1393.6 1165.2L1395.1 1167.7L1396.7 1170.3L1398.3 1172.9L1399.9 1175.4L1401.5 1177.9L1403.2 1180.4L1404.9 1182.8L1406.7 1185.2L1408.4 1187.7L1410.2 1190.1L1412.1 1192.4L1414.0 1194.8L1415.9 1197.1L1417.8 1199.4L1419.7 1201.6L1421.7 1203.9L1423.8 1206.1L1425.8 1208.3L1427.9 1210.4L1430.0 1212.6L1432.1 1214.7L1434.3 1216.7L1436.4 1218.8L1438.7 1220.8L1440.9 1222.8L1443.1 1224.8L1445.4 1226.8L1447.7 1228.7L1450.0 1230.6L1452.4 1232.5L1454.7 1234.3L1457.1 1236.2L1459.5 1238.0L1461.9 1239.8L1464.3 1241.6L1466.7 1243.3L1469.1 1245.1L1471.6 1246.8L1474.1 1248.5L1476.6 1250.2L1479.1 1251.8L1481.6 1253.4L1484.1 1255.1L1486.6 1256.7L1489.2 1258.2L1491.7 1259.8L1494.3 1261.4L1496.9 1262.9L1499.4 1264.5L1502.0 1266.0L1504.6 1267.5L1507.2 1269.0L1509.8 1270.5L1512.4 1271.9L1515.1 1273.4L1517.7 1274.8L1520.3 1276.3L1523.0 1277.7L1525.6 1279.1L1528.3 1280.4L1530.9 1281.8L1533.6 1283.2L1536.3 1284.5L1539.0 1285.9L1541.7 1287.2L1544.4 1288.5L1547.1 1289.8L1549.8 1291.1L1552.5 1292.4L1555.2 1293.6L1557.9 1294.9L1560.7 1296.1L1563.4 1297.3L1566.2 1298.5L1569.0 1299.6L1571.7 1300.8L1574.5 1301.9L1577.3 1303.0L1580.1 1304.1L1582.9 1305.1L1585.7 1306.2L1588.5 1307.2L1591.4 1308.2L1594.2 1309.2L1597.0 1310.2L1599.9 1311.1L1602.7 1312.1L1605.6 1313.0L1608.4 1314.0L1611.3 1314.9L1614.1 1315.7L1617.0 1316.6L1619.9 1317.4L1622.8 1318.2L1625.7 1319.0L1628.6 1319.8L1631.5 1320.5L1634.4 1321.2L1637.3 1321.9L1640.2 1322.5L1643.2 1323.1L1646.1 1323.7L1649.1 1324.3L1652.0 1324.8L1655.0 1325.3L1657.9 1325.8L1660.9 1326.2L1663.8 1326.7L1666.8 1327.1L1669.8 1327.5L1672.8 1327.9L1675.7 1328.3L1678.7 1328.7L1681.7 1329.0L1684.7 1329.4L1687.6 1329.8L1690.6 1330.2L1693.6 1330.6L1696.6 1330.9L1699.5 1331.3L1702.5 1331.8L1705.5 1332.2L1708.4 1332.6L1711.4 1333.0L1714.4 1333.5L1717.3 1333.9L1720.3 1334.4L1723.3 1334.9L1726.2 1335.3L1729.2 1335.8L1732.2 1336.2L1735.1 1336.7L1738.1 1337.1L1741.1 1337.6L1744.0 1338.0L1747.0 1338.5L1750.0 1338.9L1752.9 1339.3L1755.9 1339.7L1758.9 1340.1L1761.9 1340.5L1764.8 1341.0L1767.8 1341.4L1770.8 1341.8L1773.7 1342.2L1776.7 1342.6L1779.7 1343.1L1782.6 1343.5L1785.6 1343.9L1788.6 1344.3L1791.6 1344.7L1794.5 1345.1L1797.5 1345.5L1800.5 1345.9L1803.5 1346.3L1806.4 1346.6L1809.4 1347.0L1812.4 1347.3L1815.4 1347.7L1818.3 1348.0L1821.3 1348.4L1824.3 1348.8L1827.3 1349.2L1830.2 1349.6L1833.2 1350.0L1836.2 1350.5L1839.1 1350.9L1842.1 1351.4L1845.1 1351.9L1848.0 1352.3L1851.0 1352.8L1853.9 1353.3L1856.9 1353.8L1859.9 1354.2L1862.8 1354.7L1865.8 1355.2L1868.8 1355.7L1871.7 1356.1L1874.7 1356.6L1877.7 1357.0L1880.6 1357.5L1883.6 1358.0L1886.5 1358.4L1889.5 1358.9L1892.5 1359.3L1895.4 1359.8L1898.4 1360.3L1901.4 1360.7L1904.3 1361.2L1907.3 1361.6L1910.3 1362.1L1913.2 1362.5L1916.2 1362.9L1919.2 1363.4L1922.1 1363.8L1925.1 1364.3L1928.1 1364.7L1931.0 1365.2L1934.0 1365.6L1937.0 1366.1L1939.9 1366.5L1942.9 1367.0L1945.9 1367.4L1948.8 1367.9L1951.8 1368.3L1954.8 1368.8L1957.7 1369.2L1960.7 1369.7L1963.7 1370.2L1966.6 1370.6L1969.6 1371.1L1972.6 1371.5L1975.5 1372.0L1978.5 1372.4L1981.5 1372.8L1984.4 1373.2L1987.4 1373.6L1990.4 1374.0L1993.4 1374.4L1996.3 1374.8L1999.3 1375.1L2002.3 1375.5L2005.3 1375.8L2008.2 1376.2L2011.2 1376.5L2014.2 1376.8L2017.2 1377.1L2020.1 1377.4L2023.1 1377.7L2026.1 1377.9L2029.0 1378.2L2032.0 1378.5" stroke="#BA66DF" stroke-width="10"/>
</g>
<g stroke="#000" stroke-width="10" fill="none" stroke-linecap="butt">
<rect x="264" y="74.5" width="1768" height="1424.5"/>
<line x1="264.00" y1="1499" x2="264.00" y2="1526.5"/>
<line x1="411.33" y1="1499" x2="411.33" y2="1512.5"/>
<line x1="558.67" y1="1499" x2="558.67" y2="1526.5"/>
<line x1="706.00" y1="1499" x2="706.00" y2="1512.5"/>
<line x1="853.33" y1="1499" x2="853.33" y2="1526.5"/>
<line x1="1000.67" y1="1499" x2="1000.67" y2="1512.5"/>
<line x1="1148.00" y1="1499" x2="1148.00" y2="1526.5"/>
<line x1="1295.33" y1="1499" x2="1295.33" y2="1512.5"/>
<line x1="1442.67" y1="1499" x2="1442.67" y2="1526.5"/>
<line x1="1590.00" y1="1499" x2="1590.00" y2="1512.5"/>
<line x1="1737.33" y1="1499" x2="1737.33" y2="1526.5"/>
<line x1="1884.67" y1="1499" x2="1884.67" y2="1512.5"/>
<line x1="2032.00" y1="1499" x2="2032.00" y2="1526.5"/>
<line x1="264" y1="1499.00" x2="236" y2="1499.00"/>
<line x1="264" y1="1320.94" x2="248.5" y2="1320.94"/>
<line x1="264" y1="1142.88" x2="236" y2="1142.88"/>
<line x1="264" y1="964.81" x2="248.5" y2="964.81"/>
<line x1="264" y1="786.75" x2="236" y2="786.75"/>
<line x1="264" y1="608.69" x2="248.5" y2="608.69"/>
<line x1="264" y1="430.62" x2="236" y2="430.62"/>
<line x1="264" y1="252.56" x2="248.5" y2="252.56"/>
<line x1="264" y1="74.50" x2="236" y2="74.50"/>
</g>
<g font-size="76">
<text x="264.0" y="1603.5" text-anchor="middle">200</text>
<text x="558.7" y="1603.5" text-anchor="middle">300</text>
<text x="853.3" y="1603.5" text-anchor="middle">400</text>
<text x="1148.0" y="1603.5" text-anchor="middle">500</text>
<text x="1442.7" y="1603.5" text-anchor="middle">600</text>
<text x="1737.3" y="1603.5" text-anchor="middle">700</text>
<text x="2032.0" y="1603.5" text-anchor="middle">800</text>
<text x="218" y="1522.0" text-anchor="end">0.0</text>
<text x="218" y="1165.9" text-anchor="end">0.5</text>
<text x="218" y="809.8" text-anchor="end">1.0</text>
<text x="218" y="453.6" text-anchor="end">1.5</text>
<text x="218" y="97.5" text-anchor="end">2.0</text>
<text x="1149" y="1730" text-anchor="middle">λ (nm)</text>
<text transform="translate(96.5 782.5) rotate(-90)" text-anchor="middle" font-size="75.2">Absorbance (a.u.)</text>
</g>
<g font-size="56">
<line x1="804.5" y1="485" x2="927.5" y2="485" stroke="#404040" stroke-width="9" stroke-linecap="round"/>
<text transform="translate(941.5 503) scale(0.956 1)">PDI</text>
<line x1="804.5" y1="553" x2="927.5" y2="553" stroke="#FF2A2A" stroke-width="9.5" stroke-linecap="round"/>
<text transform="translate(941.5 571) scale(0.956 1)">BiOCl-BiPO<tspan font-size="38.5" dy="14.5">4</tspan></text>
<line x1="804.5" y1="633" x2="927.5" y2="633" stroke="#0062E0" stroke-width="9.5" stroke-linecap="round"/>
<text transform="translate(941.5 651) scale(0.956 1)">PDI(2%)/BiOCl-BiPO<tspan font-size="38.5" dy="14.5">4</tspan></text>
<line x1="804.5" y1="712.5" x2="927.5" y2="712.5" stroke="#00AB58" stroke-width="9.5" stroke-linecap="round"/>
<text transform="translate(941.5 730.5) scale(0.956 1)">PDI(5%)/BiOCl-BiPO<tspan font-size="38.5" dy="14.5">4</tspan></text>
<line x1="804.5" y1="792.5" x2="927.5" y2="792.5" stroke="#BA66DF" stroke-width="9.5" stroke-linecap="round"/>
<text transform="translate(941.5 810.5) scale(0.956 1)">PDI(8%)/BiOCl-BiPO<tspan font-size="38.5" dy="14.5">4</tspan></text>
</g>
</g>
</svg></body></html>
